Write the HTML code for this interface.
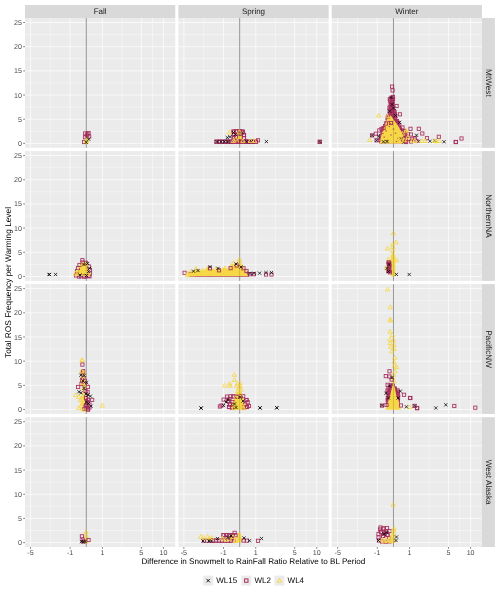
<!DOCTYPE html>
<html><head><meta charset="utf-8"><style>html,body{margin:0;padding:0;background:#fff;width:500px;height:593px;overflow:hidden}</style></head>
<body><div style="position:relative;width:500px;height:593px">
<svg width="500" height="593" viewBox="0 0 500 593" style="position:absolute;left:0;top:0">
<rect x="0" y="0" width="500" height="593" fill="#fff"/>
<rect x="25.00" y="18.00" width="150.27" height="129.80" fill="#EBEBEB"/>
<line x1="25.00" x2="175.27" y1="131.31" y2="131.31" stroke="#FFFFFF" stroke-width="0.4"/>
<line x1="25.00" x2="175.27" y1="107.13" y2="107.13" stroke="#FFFFFF" stroke-width="0.4"/>
<line x1="25.00" x2="175.27" y1="82.95" y2="82.95" stroke="#FFFFFF" stroke-width="0.4"/>
<line x1="25.00" x2="175.27" y1="58.77" y2="58.77" stroke="#FFFFFF" stroke-width="0.4"/>
<line x1="25.00" x2="175.27" y1="34.59" y2="34.59" stroke="#FFFFFF" stroke-width="0.4"/>
<line y1="18.00" y2="147.80" x1="50.30" x2="50.30" stroke="#FFFFFF" stroke-width="0.4"/>
<line y1="18.00" y2="147.80" x1="122.00" x2="122.00" stroke="#FFFFFF" stroke-width="0.4"/>
<line y1="18.00" y2="147.80" x1="152.50" x2="152.50" stroke="#FFFFFF" stroke-width="0.4"/>
<line x1="25.00" x2="175.27" y1="143.40" y2="143.40" stroke="#FFFFFF" stroke-width="0.68"/>
<line x1="25.00" x2="175.27" y1="119.22" y2="119.22" stroke="#FFFFFF" stroke-width="0.68"/>
<line x1="25.00" x2="175.27" y1="95.04" y2="95.04" stroke="#FFFFFF" stroke-width="0.68"/>
<line x1="25.00" x2="175.27" y1="70.86" y2="70.86" stroke="#FFFFFF" stroke-width="0.68"/>
<line x1="25.00" x2="175.27" y1="46.68" y2="46.68" stroke="#FFFFFF" stroke-width="0.68"/>
<line x1="25.00" x2="175.27" y1="22.50" y2="22.50" stroke="#FFFFFF" stroke-width="0.68"/>
<line y1="18.00" y2="147.80" x1="30.50" x2="30.50" stroke="#FFFFFF" stroke-width="0.68"/>
<line y1="18.00" y2="147.80" x1="70.10" x2="70.10" stroke="#FFFFFF" stroke-width="0.68"/>
<line y1="18.00" y2="147.80" x1="102.40" x2="102.40" stroke="#FFFFFF" stroke-width="0.68"/>
<line y1="18.00" y2="147.80" x1="141.30" x2="141.30" stroke="#FFFFFF" stroke-width="0.68"/>
<line y1="18.00" y2="147.80" x1="163.40" x2="163.40" stroke="#FFFFFF" stroke-width="0.68"/>
<rect x="178.37" y="18.00" width="150.27" height="129.80" fill="#EBEBEB"/>
<line x1="178.37" x2="328.64" y1="131.31" y2="131.31" stroke="#FFFFFF" stroke-width="0.4"/>
<line x1="178.37" x2="328.64" y1="107.13" y2="107.13" stroke="#FFFFFF" stroke-width="0.4"/>
<line x1="178.37" x2="328.64" y1="82.95" y2="82.95" stroke="#FFFFFF" stroke-width="0.4"/>
<line x1="178.37" x2="328.64" y1="58.77" y2="58.77" stroke="#FFFFFF" stroke-width="0.4"/>
<line x1="178.37" x2="328.64" y1="34.59" y2="34.59" stroke="#FFFFFF" stroke-width="0.4"/>
<line y1="18.00" y2="147.80" x1="203.67" x2="203.67" stroke="#FFFFFF" stroke-width="0.4"/>
<line y1="18.00" y2="147.80" x1="275.37" x2="275.37" stroke="#FFFFFF" stroke-width="0.4"/>
<line y1="18.00" y2="147.80" x1="305.87" x2="305.87" stroke="#FFFFFF" stroke-width="0.4"/>
<line x1="178.37" x2="328.64" y1="143.40" y2="143.40" stroke="#FFFFFF" stroke-width="0.68"/>
<line x1="178.37" x2="328.64" y1="119.22" y2="119.22" stroke="#FFFFFF" stroke-width="0.68"/>
<line x1="178.37" x2="328.64" y1="95.04" y2="95.04" stroke="#FFFFFF" stroke-width="0.68"/>
<line x1="178.37" x2="328.64" y1="70.86" y2="70.86" stroke="#FFFFFF" stroke-width="0.68"/>
<line x1="178.37" x2="328.64" y1="46.68" y2="46.68" stroke="#FFFFFF" stroke-width="0.68"/>
<line x1="178.37" x2="328.64" y1="22.50" y2="22.50" stroke="#FFFFFF" stroke-width="0.68"/>
<line y1="18.00" y2="147.80" x1="183.87" x2="183.87" stroke="#FFFFFF" stroke-width="0.68"/>
<line y1="18.00" y2="147.80" x1="223.47" x2="223.47" stroke="#FFFFFF" stroke-width="0.68"/>
<line y1="18.00" y2="147.80" x1="255.77" x2="255.77" stroke="#FFFFFF" stroke-width="0.68"/>
<line y1="18.00" y2="147.80" x1="294.67" x2="294.67" stroke="#FFFFFF" stroke-width="0.68"/>
<line y1="18.00" y2="147.80" x1="316.77" x2="316.77" stroke="#FFFFFF" stroke-width="0.68"/>
<rect x="331.73" y="18.00" width="150.27" height="129.80" fill="#EBEBEB"/>
<line x1="331.73" x2="482.00" y1="131.31" y2="131.31" stroke="#FFFFFF" stroke-width="0.4"/>
<line x1="331.73" x2="482.00" y1="107.13" y2="107.13" stroke="#FFFFFF" stroke-width="0.4"/>
<line x1="331.73" x2="482.00" y1="82.95" y2="82.95" stroke="#FFFFFF" stroke-width="0.4"/>
<line x1="331.73" x2="482.00" y1="58.77" y2="58.77" stroke="#FFFFFF" stroke-width="0.4"/>
<line x1="331.73" x2="482.00" y1="34.59" y2="34.59" stroke="#FFFFFF" stroke-width="0.4"/>
<line y1="18.00" y2="147.80" x1="357.48" x2="357.48" stroke="#FFFFFF" stroke-width="0.4"/>
<line y1="18.00" y2="147.80" x1="429.18" x2="429.18" stroke="#FFFFFF" stroke-width="0.4"/>
<line y1="18.00" y2="147.80" x1="459.68" x2="459.68" stroke="#FFFFFF" stroke-width="0.4"/>
<line x1="331.73" x2="482.00" y1="143.40" y2="143.40" stroke="#FFFFFF" stroke-width="0.68"/>
<line x1="331.73" x2="482.00" y1="119.22" y2="119.22" stroke="#FFFFFF" stroke-width="0.68"/>
<line x1="331.73" x2="482.00" y1="95.04" y2="95.04" stroke="#FFFFFF" stroke-width="0.68"/>
<line x1="331.73" x2="482.00" y1="70.86" y2="70.86" stroke="#FFFFFF" stroke-width="0.68"/>
<line x1="331.73" x2="482.00" y1="46.68" y2="46.68" stroke="#FFFFFF" stroke-width="0.68"/>
<line x1="331.73" x2="482.00" y1="22.50" y2="22.50" stroke="#FFFFFF" stroke-width="0.68"/>
<line y1="18.00" y2="147.80" x1="337.68" x2="337.68" stroke="#FFFFFF" stroke-width="0.68"/>
<line y1="18.00" y2="147.80" x1="377.28" x2="377.28" stroke="#FFFFFF" stroke-width="0.68"/>
<line y1="18.00" y2="147.80" x1="409.58" x2="409.58" stroke="#FFFFFF" stroke-width="0.68"/>
<line y1="18.00" y2="147.80" x1="448.48" x2="448.48" stroke="#FFFFFF" stroke-width="0.68"/>
<line y1="18.00" y2="147.80" x1="470.58" x2="470.58" stroke="#FFFFFF" stroke-width="0.68"/>
<rect x="25.00" y="151.07" width="150.27" height="129.80" fill="#EBEBEB"/>
<line x1="25.00" x2="175.27" y1="264.38" y2="264.38" stroke="#FFFFFF" stroke-width="0.4"/>
<line x1="25.00" x2="175.27" y1="240.20" y2="240.20" stroke="#FFFFFF" stroke-width="0.4"/>
<line x1="25.00" x2="175.27" y1="216.02" y2="216.02" stroke="#FFFFFF" stroke-width="0.4"/>
<line x1="25.00" x2="175.27" y1="191.84" y2="191.84" stroke="#FFFFFF" stroke-width="0.4"/>
<line x1="25.00" x2="175.27" y1="167.66" y2="167.66" stroke="#FFFFFF" stroke-width="0.4"/>
<line y1="151.07" y2="280.87" x1="50.30" x2="50.30" stroke="#FFFFFF" stroke-width="0.4"/>
<line y1="151.07" y2="280.87" x1="122.00" x2="122.00" stroke="#FFFFFF" stroke-width="0.4"/>
<line y1="151.07" y2="280.87" x1="152.50" x2="152.50" stroke="#FFFFFF" stroke-width="0.4"/>
<line x1="25.00" x2="175.27" y1="276.47" y2="276.47" stroke="#FFFFFF" stroke-width="0.68"/>
<line x1="25.00" x2="175.27" y1="252.29" y2="252.29" stroke="#FFFFFF" stroke-width="0.68"/>
<line x1="25.00" x2="175.27" y1="228.11" y2="228.11" stroke="#FFFFFF" stroke-width="0.68"/>
<line x1="25.00" x2="175.27" y1="203.93" y2="203.93" stroke="#FFFFFF" stroke-width="0.68"/>
<line x1="25.00" x2="175.27" y1="179.75" y2="179.75" stroke="#FFFFFF" stroke-width="0.68"/>
<line x1="25.00" x2="175.27" y1="155.57" y2="155.57" stroke="#FFFFFF" stroke-width="0.68"/>
<line y1="151.07" y2="280.87" x1="30.50" x2="30.50" stroke="#FFFFFF" stroke-width="0.68"/>
<line y1="151.07" y2="280.87" x1="70.10" x2="70.10" stroke="#FFFFFF" stroke-width="0.68"/>
<line y1="151.07" y2="280.87" x1="102.40" x2="102.40" stroke="#FFFFFF" stroke-width="0.68"/>
<line y1="151.07" y2="280.87" x1="141.30" x2="141.30" stroke="#FFFFFF" stroke-width="0.68"/>
<line y1="151.07" y2="280.87" x1="163.40" x2="163.40" stroke="#FFFFFF" stroke-width="0.68"/>
<rect x="178.37" y="151.07" width="150.27" height="129.80" fill="#EBEBEB"/>
<line x1="178.37" x2="328.64" y1="264.38" y2="264.38" stroke="#FFFFFF" stroke-width="0.4"/>
<line x1="178.37" x2="328.64" y1="240.20" y2="240.20" stroke="#FFFFFF" stroke-width="0.4"/>
<line x1="178.37" x2="328.64" y1="216.02" y2="216.02" stroke="#FFFFFF" stroke-width="0.4"/>
<line x1="178.37" x2="328.64" y1="191.84" y2="191.84" stroke="#FFFFFF" stroke-width="0.4"/>
<line x1="178.37" x2="328.64" y1="167.66" y2="167.66" stroke="#FFFFFF" stroke-width="0.4"/>
<line y1="151.07" y2="280.87" x1="203.67" x2="203.67" stroke="#FFFFFF" stroke-width="0.4"/>
<line y1="151.07" y2="280.87" x1="275.37" x2="275.37" stroke="#FFFFFF" stroke-width="0.4"/>
<line y1="151.07" y2="280.87" x1="305.87" x2="305.87" stroke="#FFFFFF" stroke-width="0.4"/>
<line x1="178.37" x2="328.64" y1="276.47" y2="276.47" stroke="#FFFFFF" stroke-width="0.68"/>
<line x1="178.37" x2="328.64" y1="252.29" y2="252.29" stroke="#FFFFFF" stroke-width="0.68"/>
<line x1="178.37" x2="328.64" y1="228.11" y2="228.11" stroke="#FFFFFF" stroke-width="0.68"/>
<line x1="178.37" x2="328.64" y1="203.93" y2="203.93" stroke="#FFFFFF" stroke-width="0.68"/>
<line x1="178.37" x2="328.64" y1="179.75" y2="179.75" stroke="#FFFFFF" stroke-width="0.68"/>
<line x1="178.37" x2="328.64" y1="155.57" y2="155.57" stroke="#FFFFFF" stroke-width="0.68"/>
<line y1="151.07" y2="280.87" x1="183.87" x2="183.87" stroke="#FFFFFF" stroke-width="0.68"/>
<line y1="151.07" y2="280.87" x1="223.47" x2="223.47" stroke="#FFFFFF" stroke-width="0.68"/>
<line y1="151.07" y2="280.87" x1="255.77" x2="255.77" stroke="#FFFFFF" stroke-width="0.68"/>
<line y1="151.07" y2="280.87" x1="294.67" x2="294.67" stroke="#FFFFFF" stroke-width="0.68"/>
<line y1="151.07" y2="280.87" x1="316.77" x2="316.77" stroke="#FFFFFF" stroke-width="0.68"/>
<rect x="331.73" y="151.07" width="150.27" height="129.80" fill="#EBEBEB"/>
<line x1="331.73" x2="482.00" y1="264.38" y2="264.38" stroke="#FFFFFF" stroke-width="0.4"/>
<line x1="331.73" x2="482.00" y1="240.20" y2="240.20" stroke="#FFFFFF" stroke-width="0.4"/>
<line x1="331.73" x2="482.00" y1="216.02" y2="216.02" stroke="#FFFFFF" stroke-width="0.4"/>
<line x1="331.73" x2="482.00" y1="191.84" y2="191.84" stroke="#FFFFFF" stroke-width="0.4"/>
<line x1="331.73" x2="482.00" y1="167.66" y2="167.66" stroke="#FFFFFF" stroke-width="0.4"/>
<line y1="151.07" y2="280.87" x1="357.48" x2="357.48" stroke="#FFFFFF" stroke-width="0.4"/>
<line y1="151.07" y2="280.87" x1="429.18" x2="429.18" stroke="#FFFFFF" stroke-width="0.4"/>
<line y1="151.07" y2="280.87" x1="459.68" x2="459.68" stroke="#FFFFFF" stroke-width="0.4"/>
<line x1="331.73" x2="482.00" y1="276.47" y2="276.47" stroke="#FFFFFF" stroke-width="0.68"/>
<line x1="331.73" x2="482.00" y1="252.29" y2="252.29" stroke="#FFFFFF" stroke-width="0.68"/>
<line x1="331.73" x2="482.00" y1="228.11" y2="228.11" stroke="#FFFFFF" stroke-width="0.68"/>
<line x1="331.73" x2="482.00" y1="203.93" y2="203.93" stroke="#FFFFFF" stroke-width="0.68"/>
<line x1="331.73" x2="482.00" y1="179.75" y2="179.75" stroke="#FFFFFF" stroke-width="0.68"/>
<line x1="331.73" x2="482.00" y1="155.57" y2="155.57" stroke="#FFFFFF" stroke-width="0.68"/>
<line y1="151.07" y2="280.87" x1="337.68" x2="337.68" stroke="#FFFFFF" stroke-width="0.68"/>
<line y1="151.07" y2="280.87" x1="377.28" x2="377.28" stroke="#FFFFFF" stroke-width="0.68"/>
<line y1="151.07" y2="280.87" x1="409.58" x2="409.58" stroke="#FFFFFF" stroke-width="0.68"/>
<line y1="151.07" y2="280.87" x1="448.48" x2="448.48" stroke="#FFFFFF" stroke-width="0.68"/>
<line y1="151.07" y2="280.87" x1="470.58" x2="470.58" stroke="#FFFFFF" stroke-width="0.68"/>
<rect x="25.00" y="284.13" width="150.27" height="129.80" fill="#EBEBEB"/>
<line x1="25.00" x2="175.27" y1="397.44" y2="397.44" stroke="#FFFFFF" stroke-width="0.4"/>
<line x1="25.00" x2="175.27" y1="373.26" y2="373.26" stroke="#FFFFFF" stroke-width="0.4"/>
<line x1="25.00" x2="175.27" y1="349.08" y2="349.08" stroke="#FFFFFF" stroke-width="0.4"/>
<line x1="25.00" x2="175.27" y1="324.90" y2="324.90" stroke="#FFFFFF" stroke-width="0.4"/>
<line x1="25.00" x2="175.27" y1="300.72" y2="300.72" stroke="#FFFFFF" stroke-width="0.4"/>
<line y1="284.13" y2="413.93" x1="50.30" x2="50.30" stroke="#FFFFFF" stroke-width="0.4"/>
<line y1="284.13" y2="413.93" x1="122.00" x2="122.00" stroke="#FFFFFF" stroke-width="0.4"/>
<line y1="284.13" y2="413.93" x1="152.50" x2="152.50" stroke="#FFFFFF" stroke-width="0.4"/>
<line x1="25.00" x2="175.27" y1="409.53" y2="409.53" stroke="#FFFFFF" stroke-width="0.68"/>
<line x1="25.00" x2="175.27" y1="385.35" y2="385.35" stroke="#FFFFFF" stroke-width="0.68"/>
<line x1="25.00" x2="175.27" y1="361.17" y2="361.17" stroke="#FFFFFF" stroke-width="0.68"/>
<line x1="25.00" x2="175.27" y1="336.99" y2="336.99" stroke="#FFFFFF" stroke-width="0.68"/>
<line x1="25.00" x2="175.27" y1="312.81" y2="312.81" stroke="#FFFFFF" stroke-width="0.68"/>
<line x1="25.00" x2="175.27" y1="288.63" y2="288.63" stroke="#FFFFFF" stroke-width="0.68"/>
<line y1="284.13" y2="413.93" x1="30.50" x2="30.50" stroke="#FFFFFF" stroke-width="0.68"/>
<line y1="284.13" y2="413.93" x1="70.10" x2="70.10" stroke="#FFFFFF" stroke-width="0.68"/>
<line y1="284.13" y2="413.93" x1="102.40" x2="102.40" stroke="#FFFFFF" stroke-width="0.68"/>
<line y1="284.13" y2="413.93" x1="141.30" x2="141.30" stroke="#FFFFFF" stroke-width="0.68"/>
<line y1="284.13" y2="413.93" x1="163.40" x2="163.40" stroke="#FFFFFF" stroke-width="0.68"/>
<rect x="178.37" y="284.13" width="150.27" height="129.80" fill="#EBEBEB"/>
<line x1="178.37" x2="328.64" y1="397.44" y2="397.44" stroke="#FFFFFF" stroke-width="0.4"/>
<line x1="178.37" x2="328.64" y1="373.26" y2="373.26" stroke="#FFFFFF" stroke-width="0.4"/>
<line x1="178.37" x2="328.64" y1="349.08" y2="349.08" stroke="#FFFFFF" stroke-width="0.4"/>
<line x1="178.37" x2="328.64" y1="324.90" y2="324.90" stroke="#FFFFFF" stroke-width="0.4"/>
<line x1="178.37" x2="328.64" y1="300.72" y2="300.72" stroke="#FFFFFF" stroke-width="0.4"/>
<line y1="284.13" y2="413.93" x1="203.67" x2="203.67" stroke="#FFFFFF" stroke-width="0.4"/>
<line y1="284.13" y2="413.93" x1="275.37" x2="275.37" stroke="#FFFFFF" stroke-width="0.4"/>
<line y1="284.13" y2="413.93" x1="305.87" x2="305.87" stroke="#FFFFFF" stroke-width="0.4"/>
<line x1="178.37" x2="328.64" y1="409.53" y2="409.53" stroke="#FFFFFF" stroke-width="0.68"/>
<line x1="178.37" x2="328.64" y1="385.35" y2="385.35" stroke="#FFFFFF" stroke-width="0.68"/>
<line x1="178.37" x2="328.64" y1="361.17" y2="361.17" stroke="#FFFFFF" stroke-width="0.68"/>
<line x1="178.37" x2="328.64" y1="336.99" y2="336.99" stroke="#FFFFFF" stroke-width="0.68"/>
<line x1="178.37" x2="328.64" y1="312.81" y2="312.81" stroke="#FFFFFF" stroke-width="0.68"/>
<line x1="178.37" x2="328.64" y1="288.63" y2="288.63" stroke="#FFFFFF" stroke-width="0.68"/>
<line y1="284.13" y2="413.93" x1="183.87" x2="183.87" stroke="#FFFFFF" stroke-width="0.68"/>
<line y1="284.13" y2="413.93" x1="223.47" x2="223.47" stroke="#FFFFFF" stroke-width="0.68"/>
<line y1="284.13" y2="413.93" x1="255.77" x2="255.77" stroke="#FFFFFF" stroke-width="0.68"/>
<line y1="284.13" y2="413.93" x1="294.67" x2="294.67" stroke="#FFFFFF" stroke-width="0.68"/>
<line y1="284.13" y2="413.93" x1="316.77" x2="316.77" stroke="#FFFFFF" stroke-width="0.68"/>
<rect x="331.73" y="284.13" width="150.27" height="129.80" fill="#EBEBEB"/>
<line x1="331.73" x2="482.00" y1="397.44" y2="397.44" stroke="#FFFFFF" stroke-width="0.4"/>
<line x1="331.73" x2="482.00" y1="373.26" y2="373.26" stroke="#FFFFFF" stroke-width="0.4"/>
<line x1="331.73" x2="482.00" y1="349.08" y2="349.08" stroke="#FFFFFF" stroke-width="0.4"/>
<line x1="331.73" x2="482.00" y1="324.90" y2="324.90" stroke="#FFFFFF" stroke-width="0.4"/>
<line x1="331.73" x2="482.00" y1="300.72" y2="300.72" stroke="#FFFFFF" stroke-width="0.4"/>
<line y1="284.13" y2="413.93" x1="357.48" x2="357.48" stroke="#FFFFFF" stroke-width="0.4"/>
<line y1="284.13" y2="413.93" x1="429.18" x2="429.18" stroke="#FFFFFF" stroke-width="0.4"/>
<line y1="284.13" y2="413.93" x1="459.68" x2="459.68" stroke="#FFFFFF" stroke-width="0.4"/>
<line x1="331.73" x2="482.00" y1="409.53" y2="409.53" stroke="#FFFFFF" stroke-width="0.68"/>
<line x1="331.73" x2="482.00" y1="385.35" y2="385.35" stroke="#FFFFFF" stroke-width="0.68"/>
<line x1="331.73" x2="482.00" y1="361.17" y2="361.17" stroke="#FFFFFF" stroke-width="0.68"/>
<line x1="331.73" x2="482.00" y1="336.99" y2="336.99" stroke="#FFFFFF" stroke-width="0.68"/>
<line x1="331.73" x2="482.00" y1="312.81" y2="312.81" stroke="#FFFFFF" stroke-width="0.68"/>
<line x1="331.73" x2="482.00" y1="288.63" y2="288.63" stroke="#FFFFFF" stroke-width="0.68"/>
<line y1="284.13" y2="413.93" x1="337.68" x2="337.68" stroke="#FFFFFF" stroke-width="0.68"/>
<line y1="284.13" y2="413.93" x1="377.28" x2="377.28" stroke="#FFFFFF" stroke-width="0.68"/>
<line y1="284.13" y2="413.93" x1="409.58" x2="409.58" stroke="#FFFFFF" stroke-width="0.68"/>
<line y1="284.13" y2="413.93" x1="448.48" x2="448.48" stroke="#FFFFFF" stroke-width="0.68"/>
<line y1="284.13" y2="413.93" x1="470.58" x2="470.58" stroke="#FFFFFF" stroke-width="0.68"/>
<rect x="25.00" y="417.20" width="150.27" height="129.80" fill="#EBEBEB"/>
<line x1="25.00" x2="175.27" y1="530.51" y2="530.51" stroke="#FFFFFF" stroke-width="0.4"/>
<line x1="25.00" x2="175.27" y1="506.33" y2="506.33" stroke="#FFFFFF" stroke-width="0.4"/>
<line x1="25.00" x2="175.27" y1="482.15" y2="482.15" stroke="#FFFFFF" stroke-width="0.4"/>
<line x1="25.00" x2="175.27" y1="457.97" y2="457.97" stroke="#FFFFFF" stroke-width="0.4"/>
<line x1="25.00" x2="175.27" y1="433.79" y2="433.79" stroke="#FFFFFF" stroke-width="0.4"/>
<line y1="417.20" y2="547.00" x1="50.30" x2="50.30" stroke="#FFFFFF" stroke-width="0.4"/>
<line y1="417.20" y2="547.00" x1="122.00" x2="122.00" stroke="#FFFFFF" stroke-width="0.4"/>
<line y1="417.20" y2="547.00" x1="152.50" x2="152.50" stroke="#FFFFFF" stroke-width="0.4"/>
<line x1="25.00" x2="175.27" y1="542.60" y2="542.60" stroke="#FFFFFF" stroke-width="0.68"/>
<line x1="25.00" x2="175.27" y1="518.42" y2="518.42" stroke="#FFFFFF" stroke-width="0.68"/>
<line x1="25.00" x2="175.27" y1="494.24" y2="494.24" stroke="#FFFFFF" stroke-width="0.68"/>
<line x1="25.00" x2="175.27" y1="470.06" y2="470.06" stroke="#FFFFFF" stroke-width="0.68"/>
<line x1="25.00" x2="175.27" y1="445.88" y2="445.88" stroke="#FFFFFF" stroke-width="0.68"/>
<line x1="25.00" x2="175.27" y1="421.70" y2="421.70" stroke="#FFFFFF" stroke-width="0.68"/>
<line y1="417.20" y2="547.00" x1="30.50" x2="30.50" stroke="#FFFFFF" stroke-width="0.68"/>
<line y1="417.20" y2="547.00" x1="70.10" x2="70.10" stroke="#FFFFFF" stroke-width="0.68"/>
<line y1="417.20" y2="547.00" x1="102.40" x2="102.40" stroke="#FFFFFF" stroke-width="0.68"/>
<line y1="417.20" y2="547.00" x1="141.30" x2="141.30" stroke="#FFFFFF" stroke-width="0.68"/>
<line y1="417.20" y2="547.00" x1="163.40" x2="163.40" stroke="#FFFFFF" stroke-width="0.68"/>
<rect x="178.37" y="417.20" width="150.27" height="129.80" fill="#EBEBEB"/>
<line x1="178.37" x2="328.64" y1="530.51" y2="530.51" stroke="#FFFFFF" stroke-width="0.4"/>
<line x1="178.37" x2="328.64" y1="506.33" y2="506.33" stroke="#FFFFFF" stroke-width="0.4"/>
<line x1="178.37" x2="328.64" y1="482.15" y2="482.15" stroke="#FFFFFF" stroke-width="0.4"/>
<line x1="178.37" x2="328.64" y1="457.97" y2="457.97" stroke="#FFFFFF" stroke-width="0.4"/>
<line x1="178.37" x2="328.64" y1="433.79" y2="433.79" stroke="#FFFFFF" stroke-width="0.4"/>
<line y1="417.20" y2="547.00" x1="203.67" x2="203.67" stroke="#FFFFFF" stroke-width="0.4"/>
<line y1="417.20" y2="547.00" x1="275.37" x2="275.37" stroke="#FFFFFF" stroke-width="0.4"/>
<line y1="417.20" y2="547.00" x1="305.87" x2="305.87" stroke="#FFFFFF" stroke-width="0.4"/>
<line x1="178.37" x2="328.64" y1="542.60" y2="542.60" stroke="#FFFFFF" stroke-width="0.68"/>
<line x1="178.37" x2="328.64" y1="518.42" y2="518.42" stroke="#FFFFFF" stroke-width="0.68"/>
<line x1="178.37" x2="328.64" y1="494.24" y2="494.24" stroke="#FFFFFF" stroke-width="0.68"/>
<line x1="178.37" x2="328.64" y1="470.06" y2="470.06" stroke="#FFFFFF" stroke-width="0.68"/>
<line x1="178.37" x2="328.64" y1="445.88" y2="445.88" stroke="#FFFFFF" stroke-width="0.68"/>
<line x1="178.37" x2="328.64" y1="421.70" y2="421.70" stroke="#FFFFFF" stroke-width="0.68"/>
<line y1="417.20" y2="547.00" x1="183.87" x2="183.87" stroke="#FFFFFF" stroke-width="0.68"/>
<line y1="417.20" y2="547.00" x1="223.47" x2="223.47" stroke="#FFFFFF" stroke-width="0.68"/>
<line y1="417.20" y2="547.00" x1="255.77" x2="255.77" stroke="#FFFFFF" stroke-width="0.68"/>
<line y1="417.20" y2="547.00" x1="294.67" x2="294.67" stroke="#FFFFFF" stroke-width="0.68"/>
<line y1="417.20" y2="547.00" x1="316.77" x2="316.77" stroke="#FFFFFF" stroke-width="0.68"/>
<rect x="331.73" y="417.20" width="150.27" height="129.80" fill="#EBEBEB"/>
<line x1="331.73" x2="482.00" y1="530.51" y2="530.51" stroke="#FFFFFF" stroke-width="0.4"/>
<line x1="331.73" x2="482.00" y1="506.33" y2="506.33" stroke="#FFFFFF" stroke-width="0.4"/>
<line x1="331.73" x2="482.00" y1="482.15" y2="482.15" stroke="#FFFFFF" stroke-width="0.4"/>
<line x1="331.73" x2="482.00" y1="457.97" y2="457.97" stroke="#FFFFFF" stroke-width="0.4"/>
<line x1="331.73" x2="482.00" y1="433.79" y2="433.79" stroke="#FFFFFF" stroke-width="0.4"/>
<line y1="417.20" y2="547.00" x1="357.48" x2="357.48" stroke="#FFFFFF" stroke-width="0.4"/>
<line y1="417.20" y2="547.00" x1="429.18" x2="429.18" stroke="#FFFFFF" stroke-width="0.4"/>
<line y1="417.20" y2="547.00" x1="459.68" x2="459.68" stroke="#FFFFFF" stroke-width="0.4"/>
<line x1="331.73" x2="482.00" y1="542.60" y2="542.60" stroke="#FFFFFF" stroke-width="0.68"/>
<line x1="331.73" x2="482.00" y1="518.42" y2="518.42" stroke="#FFFFFF" stroke-width="0.68"/>
<line x1="331.73" x2="482.00" y1="494.24" y2="494.24" stroke="#FFFFFF" stroke-width="0.68"/>
<line x1="331.73" x2="482.00" y1="470.06" y2="470.06" stroke="#FFFFFF" stroke-width="0.68"/>
<line x1="331.73" x2="482.00" y1="445.88" y2="445.88" stroke="#FFFFFF" stroke-width="0.68"/>
<line x1="331.73" x2="482.00" y1="421.70" y2="421.70" stroke="#FFFFFF" stroke-width="0.68"/>
<line y1="417.20" y2="547.00" x1="337.68" x2="337.68" stroke="#FFFFFF" stroke-width="0.68"/>
<line y1="417.20" y2="547.00" x1="377.28" x2="377.28" stroke="#FFFFFF" stroke-width="0.68"/>
<line y1="417.20" y2="547.00" x1="409.58" x2="409.58" stroke="#FFFFFF" stroke-width="0.68"/>
<line y1="417.20" y2="547.00" x1="448.48" x2="448.48" stroke="#FFFFFF" stroke-width="0.68"/>
<line y1="417.20" y2="547.00" x1="470.58" x2="470.58" stroke="#FFFFFF" stroke-width="0.68"/>
<line y1="18.00" y2="147.80" x1="86.30" x2="86.30" stroke="#B2B2B2" stroke-width="1.0"/>
<line y1="18.00" y2="147.80" x1="239.67" x2="239.67" stroke="#B2B2B2" stroke-width="1.0"/>
<line y1="18.00" y2="147.80" x1="393.48" x2="393.48" stroke="#B2B2B2" stroke-width="1.0"/>
<line y1="151.07" y2="280.87" x1="86.30" x2="86.30" stroke="#B2B2B2" stroke-width="1.0"/>
<line y1="151.07" y2="280.87" x1="239.67" x2="239.67" stroke="#B2B2B2" stroke-width="1.0"/>
<line y1="151.07" y2="280.87" x1="393.48" x2="393.48" stroke="#B2B2B2" stroke-width="1.0"/>
<line y1="284.13" y2="413.93" x1="86.30" x2="86.30" stroke="#B2B2B2" stroke-width="1.0"/>
<line y1="284.13" y2="413.93" x1="239.67" x2="239.67" stroke="#B2B2B2" stroke-width="1.0"/>
<line y1="284.13" y2="413.93" x1="393.48" x2="393.48" stroke="#B2B2B2" stroke-width="1.0"/>
<line y1="417.20" y2="547.00" x1="86.30" x2="86.30" stroke="#B2B2B2" stroke-width="1.0"/>
<line y1="417.20" y2="547.00" x1="239.67" x2="239.67" stroke="#B2B2B2" stroke-width="1.0"/>
<line y1="417.20" y2="547.00" x1="393.48" x2="393.48" stroke="#B2B2B2" stroke-width="1.0"/>
<polygon points="239.4,129.8 241.5,134.0 242.8,143.5 236.0,143.5 237.3,134.0" fill="#F6D746"/>
<polygon points="389.8,95.4 393.4,95.4 393.8,100.0 394.3,108.0 395.3,113.5 396.8,119.0 399.0,123.5 402.0,128.0 404.5,132.5 406.5,137.5 407.5,143.6 379.0,143.6 379.5,138.0 381.0,132.0 384.0,127.5 386.8,121.0 388.3,114.0 389.2,106.0 389.5,100.0" fill="#BC5A80"/>
<rect x="391.40" y="95.32" width="3.2" height="3.2" fill="none" stroke="#A82E5E" stroke-width="0.9" opacity="0.95"/>
<rect x="388.28" y="97.48" width="3.2" height="3.2" fill="none" stroke="#A82E5E" stroke-width="0.9" opacity="0.95"/>
<rect x="390.66" y="97.75" width="3.2" height="3.2" fill="none" stroke="#A82E5E" stroke-width="0.9" opacity="0.95"/>
<rect x="389.06" y="100.62" width="3.2" height="3.2" fill="none" stroke="#A82E5E" stroke-width="0.9" opacity="0.95"/>
<rect x="391.01" y="100.31" width="3.2" height="3.2" fill="none" stroke="#A82E5E" stroke-width="0.9" opacity="0.95"/>
<rect x="389.18" y="102.71" width="3.2" height="3.2" fill="none" stroke="#A82E5E" stroke-width="0.9" opacity="0.95"/>
<rect x="390.87" y="102.20" width="3.2" height="3.2" fill="none" stroke="#A82E5E" stroke-width="0.9" opacity="0.95"/>
<rect x="388.97" y="105.02" width="3.2" height="3.2" fill="none" stroke="#A82E5E" stroke-width="0.9" opacity="0.95"/>
<rect x="391.07" y="104.91" width="3.2" height="3.2" fill="none" stroke="#A82E5E" stroke-width="0.9" opacity="0.95"/>
<rect x="388.96" y="107.78" width="3.2" height="3.2" fill="none" stroke="#A82E5E" stroke-width="0.9" opacity="0.95"/>
<rect x="390.71" y="107.81" width="3.2" height="3.2" fill="none" stroke="#A82E5E" stroke-width="0.9" opacity="0.95"/>
<rect x="388.03" y="109.66" width="3.2" height="3.2" fill="none" stroke="#A82E5E" stroke-width="0.9" opacity="0.95"/>
<rect x="390.91" y="109.43" width="3.2" height="3.2" fill="none" stroke="#A82E5E" stroke-width="0.9" opacity="0.95"/>
<rect x="392.93" y="110.28" width="3.2" height="3.2" fill="none" stroke="#A82E5E" stroke-width="0.9" opacity="0.95"/>
<rect x="388.27" y="112.38" width="3.2" height="3.2" fill="none" stroke="#A82E5E" stroke-width="0.9" opacity="0.95"/>
<rect x="390.87" y="112.29" width="3.2" height="3.2" fill="none" stroke="#A82E5E" stroke-width="0.9" opacity="0.95"/>
<rect x="393.19" y="112.36" width="3.2" height="3.2" fill="none" stroke="#A82E5E" stroke-width="0.9" opacity="0.95"/>
<rect x="386.58" y="115.15" width="3.2" height="3.2" fill="none" stroke="#A82E5E" stroke-width="0.9" opacity="0.95"/>
<rect x="388.68" y="114.21" width="3.2" height="3.2" fill="none" stroke="#A82E5E" stroke-width="0.9" opacity="0.95"/>
<rect x="391.44" y="115.17" width="3.2" height="3.2" fill="none" stroke="#A82E5E" stroke-width="0.9" opacity="0.95"/>
<rect x="393.64" y="114.61" width="3.2" height="3.2" fill="none" stroke="#A82E5E" stroke-width="0.9" opacity="0.95"/>
<rect x="385.84" y="116.79" width="3.2" height="3.2" fill="none" stroke="#A82E5E" stroke-width="0.9" opacity="0.95"/>
<rect x="389.18" y="117.34" width="3.2" height="3.2" fill="none" stroke="#A82E5E" stroke-width="0.9" opacity="0.95"/>
<rect x="390.81" y="116.66" width="3.2" height="3.2" fill="none" stroke="#A82E5E" stroke-width="0.9" opacity="0.95"/>
<rect x="393.61" y="117.41" width="3.2" height="3.2" fill="none" stroke="#A82E5E" stroke-width="0.9" opacity="0.95"/>
<rect x="386.61" y="119.24" width="3.2" height="3.2" fill="none" stroke="#A82E5E" stroke-width="0.9" opacity="0.95"/>
<rect x="388.41" y="119.15" width="3.2" height="3.2" fill="none" stroke="#A82E5E" stroke-width="0.9" opacity="0.95"/>
<rect x="391.44" y="119.52" width="3.2" height="3.2" fill="none" stroke="#A82E5E" stroke-width="0.9" opacity="0.95"/>
<rect x="393.95" y="119.86" width="3.2" height="3.2" fill="none" stroke="#A82E5E" stroke-width="0.9" opacity="0.95"/>
<rect x="395.36" y="119.46" width="3.2" height="3.2" fill="none" stroke="#A82E5E" stroke-width="0.9" opacity="0.95"/>
<rect x="385.70" y="121.52" width="3.2" height="3.2" fill="none" stroke="#A82E5E" stroke-width="0.9" opacity="0.95"/>
<rect x="389.07" y="121.88" width="3.2" height="3.2" fill="none" stroke="#A82E5E" stroke-width="0.9" opacity="0.95"/>
<rect x="391.51" y="121.75" width="3.2" height="3.2" fill="none" stroke="#A82E5E" stroke-width="0.9" opacity="0.95"/>
<rect x="393.13" y="122.14" width="3.2" height="3.2" fill="none" stroke="#A82E5E" stroke-width="0.9" opacity="0.95"/>
<rect x="396.19" y="121.21" width="3.2" height="3.2" fill="none" stroke="#A82E5E" stroke-width="0.9" opacity="0.95"/>
<rect x="383.49" y="124.49" width="3.2" height="3.2" fill="none" stroke="#A82E5E" stroke-width="0.9" opacity="0.95"/>
<rect x="385.72" y="124.69" width="3.2" height="3.2" fill="none" stroke="#A82E5E" stroke-width="0.9" opacity="0.95"/>
<rect x="388.45" y="124.76" width="3.2" height="3.2" fill="none" stroke="#A82E5E" stroke-width="0.9" opacity="0.95"/>
<rect x="391.49" y="123.95" width="3.2" height="3.2" fill="none" stroke="#A82E5E" stroke-width="0.9" opacity="0.95"/>
<rect x="393.10" y="124.17" width="3.2" height="3.2" fill="none" stroke="#A82E5E" stroke-width="0.9" opacity="0.95"/>
<rect x="395.32" y="124.38" width="3.2" height="3.2" fill="none" stroke="#A82E5E" stroke-width="0.9" opacity="0.95"/>
<rect x="397.65" y="123.61" width="3.2" height="3.2" fill="none" stroke="#A82E5E" stroke-width="0.9" opacity="0.95"/>
<rect x="381.90" y="127.16" width="3.2" height="3.2" fill="none" stroke="#A82E5E" stroke-width="0.9" opacity="0.95"/>
<rect x="384.36" y="126.13" width="3.2" height="3.2" fill="none" stroke="#A82E5E" stroke-width="0.9" opacity="0.95"/>
<rect x="385.86" y="126.74" width="3.2" height="3.2" fill="none" stroke="#A82E5E" stroke-width="0.9" opacity="0.95"/>
<rect x="389.18" y="126.65" width="3.2" height="3.2" fill="none" stroke="#A82E5E" stroke-width="0.9" opacity="0.95"/>
<rect x="391.23" y="126.79" width="3.2" height="3.2" fill="none" stroke="#A82E5E" stroke-width="0.9" opacity="0.95"/>
<rect x="393.11" y="126.65" width="3.2" height="3.2" fill="none" stroke="#A82E5E" stroke-width="0.9" opacity="0.95"/>
<rect x="395.57" y="126.30" width="3.2" height="3.2" fill="none" stroke="#A82E5E" stroke-width="0.9" opacity="0.95"/>
<rect x="397.70" y="126.34" width="3.2" height="3.2" fill="none" stroke="#A82E5E" stroke-width="0.9" opacity="0.95"/>
<rect x="381.17" y="128.79" width="3.2" height="3.2" fill="none" stroke="#A82E5E" stroke-width="0.9" opacity="0.95"/>
<rect x="383.58" y="129.42" width="3.2" height="3.2" fill="none" stroke="#A82E5E" stroke-width="0.9" opacity="0.95"/>
<rect x="386.67" y="128.76" width="3.2" height="3.2" fill="none" stroke="#A82E5E" stroke-width="0.9" opacity="0.95"/>
<rect x="388.40" y="129.05" width="3.2" height="3.2" fill="none" stroke="#A82E5E" stroke-width="0.9" opacity="0.95"/>
<rect x="391.09" y="129.12" width="3.2" height="3.2" fill="none" stroke="#A82E5E" stroke-width="0.9" opacity="0.95"/>
<rect x="393.09" y="128.42" width="3.2" height="3.2" fill="none" stroke="#A82E5E" stroke-width="0.9" opacity="0.95"/>
<rect x="395.49" y="128.49" width="3.2" height="3.2" fill="none" stroke="#A82E5E" stroke-width="0.9" opacity="0.95"/>
<rect x="398.26" y="128.49" width="3.2" height="3.2" fill="none" stroke="#A82E5E" stroke-width="0.9" opacity="0.95"/>
<rect x="400.09" y="129.16" width="3.2" height="3.2" fill="none" stroke="#A82E5E" stroke-width="0.9" opacity="0.95"/>
<rect x="380.99" y="131.40" width="3.2" height="3.2" fill="none" stroke="#A82E5E" stroke-width="0.9" opacity="0.95"/>
<rect x="384.15" y="130.89" width="3.2" height="3.2" fill="none" stroke="#A82E5E" stroke-width="0.9" opacity="0.95"/>
<rect x="386.74" y="131.01" width="3.2" height="3.2" fill="none" stroke="#A82E5E" stroke-width="0.9" opacity="0.95"/>
<rect x="388.93" y="131.98" width="3.2" height="3.2" fill="none" stroke="#A82E5E" stroke-width="0.9" opacity="0.95"/>
<rect x="391.39" y="131.18" width="3.2" height="3.2" fill="none" stroke="#A82E5E" stroke-width="0.9" opacity="0.95"/>
<rect x="392.93" y="131.42" width="3.2" height="3.2" fill="none" stroke="#A82E5E" stroke-width="0.9" opacity="0.95"/>
<rect x="396.30" y="131.15" width="3.2" height="3.2" fill="none" stroke="#A82E5E" stroke-width="0.9" opacity="0.95"/>
<rect x="398.67" y="130.97" width="3.2" height="3.2" fill="none" stroke="#A82E5E" stroke-width="0.9" opacity="0.95"/>
<rect x="401.09" y="130.84" width="3.2" height="3.2" fill="none" stroke="#A82E5E" stroke-width="0.9" opacity="0.95"/>
<rect x="402.78" y="131.88" width="3.2" height="3.2" fill="none" stroke="#A82E5E" stroke-width="0.9" opacity="0.95"/>
<rect x="379.36" y="134.29" width="3.2" height="3.2" fill="none" stroke="#A82E5E" stroke-width="0.9" opacity="0.95"/>
<rect x="381.81" y="134.10" width="3.2" height="3.2" fill="none" stroke="#A82E5E" stroke-width="0.9" opacity="0.95"/>
<rect x="384.03" y="133.41" width="3.2" height="3.2" fill="none" stroke="#A82E5E" stroke-width="0.9" opacity="0.95"/>
<rect x="386.12" y="133.39" width="3.2" height="3.2" fill="none" stroke="#A82E5E" stroke-width="0.9" opacity="0.95"/>
<rect x="388.86" y="134.00" width="3.2" height="3.2" fill="none" stroke="#A82E5E" stroke-width="0.9" opacity="0.95"/>
<rect x="390.70" y="133.28" width="3.2" height="3.2" fill="none" stroke="#A82E5E" stroke-width="0.9" opacity="0.95"/>
<rect x="393.96" y="134.17" width="3.2" height="3.2" fill="none" stroke="#A82E5E" stroke-width="0.9" opacity="0.95"/>
<rect x="395.86" y="133.85" width="3.2" height="3.2" fill="none" stroke="#A82E5E" stroke-width="0.9" opacity="0.95"/>
<rect x="398.62" y="133.74" width="3.2" height="3.2" fill="none" stroke="#A82E5E" stroke-width="0.9" opacity="0.95"/>
<rect x="400.47" y="133.61" width="3.2" height="3.2" fill="none" stroke="#A82E5E" stroke-width="0.9" opacity="0.95"/>
<rect x="402.71" y="133.23" width="3.2" height="3.2" fill="none" stroke="#A82E5E" stroke-width="0.9" opacity="0.95"/>
<rect x="379.18" y="136.10" width="3.2" height="3.2" fill="none" stroke="#A82E5E" stroke-width="0.9" opacity="0.95"/>
<rect x="381.48" y="135.67" width="3.2" height="3.2" fill="none" stroke="#A82E5E" stroke-width="0.9" opacity="0.95"/>
<rect x="383.63" y="135.77" width="3.2" height="3.2" fill="none" stroke="#A82E5E" stroke-width="0.9" opacity="0.95"/>
<rect x="385.75" y="135.91" width="3.2" height="3.2" fill="none" stroke="#A82E5E" stroke-width="0.9" opacity="0.95"/>
<rect x="388.99" y="136.08" width="3.2" height="3.2" fill="none" stroke="#A82E5E" stroke-width="0.9" opacity="0.95"/>
<rect x="390.88" y="136.33" width="3.2" height="3.2" fill="none" stroke="#A82E5E" stroke-width="0.9" opacity="0.95"/>
<rect x="393.08" y="135.61" width="3.2" height="3.2" fill="none" stroke="#A82E5E" stroke-width="0.9" opacity="0.95"/>
<rect x="395.83" y="136.20" width="3.2" height="3.2" fill="none" stroke="#A82E5E" stroke-width="0.9" opacity="0.95"/>
<rect x="398.38" y="136.13" width="3.2" height="3.2" fill="none" stroke="#A82E5E" stroke-width="0.9" opacity="0.95"/>
<rect x="400.82" y="136.48" width="3.2" height="3.2" fill="none" stroke="#A82E5E" stroke-width="0.9" opacity="0.95"/>
<rect x="402.69" y="136.19" width="3.2" height="3.2" fill="none" stroke="#A82E5E" stroke-width="0.9" opacity="0.95"/>
<rect x="378.97" y="138.27" width="3.2" height="3.2" fill="none" stroke="#A82E5E" stroke-width="0.9" opacity="0.95"/>
<rect x="381.29" y="138.67" width="3.2" height="3.2" fill="none" stroke="#A82E5E" stroke-width="0.9" opacity="0.95"/>
<rect x="384.29" y="139.10" width="3.2" height="3.2" fill="none" stroke="#A82E5E" stroke-width="0.9" opacity="0.95"/>
<rect x="385.93" y="138.78" width="3.2" height="3.2" fill="none" stroke="#A82E5E" stroke-width="0.9" opacity="0.95"/>
<rect x="388.06" y="138.09" width="3.2" height="3.2" fill="none" stroke="#A82E5E" stroke-width="0.9" opacity="0.95"/>
<rect x="391.01" y="139.05" width="3.2" height="3.2" fill="none" stroke="#A82E5E" stroke-width="0.9" opacity="0.95"/>
<rect x="392.99" y="138.92" width="3.2" height="3.2" fill="none" stroke="#A82E5E" stroke-width="0.9" opacity="0.95"/>
<rect x="396.26" y="138.37" width="3.2" height="3.2" fill="none" stroke="#A82E5E" stroke-width="0.9" opacity="0.95"/>
<rect x="398.43" y="139.02" width="3.2" height="3.2" fill="none" stroke="#A82E5E" stroke-width="0.9" opacity="0.95"/>
<rect x="400.45" y="138.84" width="3.2" height="3.2" fill="none" stroke="#A82E5E" stroke-width="0.9" opacity="0.95"/>
<rect x="403.28" y="138.71" width="3.2" height="3.2" fill="none" stroke="#A82E5E" stroke-width="0.9" opacity="0.95"/>
<polygon points="389.5,114.8 391.5,116.5 395.0,121.5 398.5,126.5 401.5,131.5 403.5,136.5 404.6,143.5 380.0,143.5 380.8,137.5 382.5,131.5 384.5,126.0 386.8,119.5" fill="#F6D746"/>
<polygon points="406.0,127.5 408.3,132.0 403.7,132.0" fill="#F6D746"/>
<polygon points="407.0,137.0 409.5,141.8 404.5,141.8" fill="#F6D746"/>
<polygon points="81.5,262.6 85.5,262.8 87.8,266.5 90.0,275.6 74.3,275.6 76.3,271.0 78.5,267.0" fill="#F6D746"/>
<polygon points="189.0,276.9 189.5,273.0 248.0,272.0 249.0,276.9" fill="#BC5A80"/>
<rect x="188.56" y="272.42" width="3.2" height="3.2" fill="none" stroke="#A82E5E" stroke-width="0.9" opacity="0.95"/>
<rect x="191.72" y="271.71" width="3.2" height="3.2" fill="none" stroke="#A82E5E" stroke-width="0.9" opacity="0.95"/>
<rect x="193.79" y="271.94" width="3.2" height="3.2" fill="none" stroke="#A82E5E" stroke-width="0.9" opacity="0.95"/>
<rect x="196.38" y="272.35" width="3.2" height="3.2" fill="none" stroke="#A82E5E" stroke-width="0.9" opacity="0.95"/>
<rect x="198.11" y="271.43" width="3.2" height="3.2" fill="none" stroke="#A82E5E" stroke-width="0.9" opacity="0.95"/>
<rect x="201.40" y="271.92" width="3.2" height="3.2" fill="none" stroke="#A82E5E" stroke-width="0.9" opacity="0.95"/>
<rect x="203.71" y="271.40" width="3.2" height="3.2" fill="none" stroke="#A82E5E" stroke-width="0.9" opacity="0.95"/>
<rect x="205.73" y="272.27" width="3.2" height="3.2" fill="none" stroke="#A82E5E" stroke-width="0.9" opacity="0.95"/>
<rect x="207.87" y="272.53" width="3.2" height="3.2" fill="none" stroke="#A82E5E" stroke-width="0.9" opacity="0.95"/>
<rect x="211.08" y="271.44" width="3.2" height="3.2" fill="none" stroke="#A82E5E" stroke-width="0.9" opacity="0.95"/>
<rect x="212.43" y="272.05" width="3.2" height="3.2" fill="none" stroke="#A82E5E" stroke-width="0.9" opacity="0.95"/>
<rect x="215.93" y="271.86" width="3.2" height="3.2" fill="none" stroke="#A82E5E" stroke-width="0.9" opacity="0.95"/>
<rect x="217.46" y="271.91" width="3.2" height="3.2" fill="none" stroke="#A82E5E" stroke-width="0.9" opacity="0.95"/>
<rect x="219.63" y="271.67" width="3.2" height="3.2" fill="none" stroke="#A82E5E" stroke-width="0.9" opacity="0.95"/>
<rect x="222.53" y="271.99" width="3.2" height="3.2" fill="none" stroke="#A82E5E" stroke-width="0.9" opacity="0.95"/>
<rect x="224.68" y="271.68" width="3.2" height="3.2" fill="none" stroke="#A82E5E" stroke-width="0.9" opacity="0.95"/>
<rect x="227.06" y="271.95" width="3.2" height="3.2" fill="none" stroke="#A82E5E" stroke-width="0.9" opacity="0.95"/>
<rect x="229.55" y="271.43" width="3.2" height="3.2" fill="none" stroke="#A82E5E" stroke-width="0.9" opacity="0.95"/>
<rect x="232.61" y="272.07" width="3.2" height="3.2" fill="none" stroke="#A82E5E" stroke-width="0.9" opacity="0.95"/>
<rect x="234.77" y="271.62" width="3.2" height="3.2" fill="none" stroke="#A82E5E" stroke-width="0.9" opacity="0.95"/>
<rect x="237.59" y="272.43" width="3.2" height="3.2" fill="none" stroke="#A82E5E" stroke-width="0.9" opacity="0.95"/>
<rect x="238.95" y="271.80" width="3.2" height="3.2" fill="none" stroke="#A82E5E" stroke-width="0.9" opacity="0.95"/>
<rect x="242.07" y="272.25" width="3.2" height="3.2" fill="none" stroke="#A82E5E" stroke-width="0.9" opacity="0.95"/>
<rect x="244.72" y="271.91" width="3.2" height="3.2" fill="none" stroke="#A82E5E" stroke-width="0.9" opacity="0.95"/>
<polygon points="186.8,276.3 188.5,274.0 191.0,272.3 193.5,270.5 195.0,271.0 197.0,268.8 199.0,270.5 201.5,269.5 204.0,270.3 206.0,269.0 208.0,267.2 210.0,269.2 212.5,268.8 215.0,270.0 217.0,268.0 219.5,269.8 222.0,268.6 224.5,267.5 227.0,269.0 229.0,268.0 231.0,266.5 233.5,263.8 235.5,266.5 237.5,265.5 239.4,262.8 241.5,265.0 243.0,268.0 245.0,270.5 246.5,273.0 248.5,276.3" fill="#F6D746"/>
<polygon points="393.0,253.3 395.3,257.0 395.3,276.6 390.8,276.6 390.8,257.0" fill="#F6D746"/>
<polygon points="387.2,260.5 391.2,260.5 391.6,273.3 387.2,273.3" fill="#BC5A80"/>
<rect x="386.76" y="260.92" width="3.2" height="3.2" fill="none" stroke="#A82E5E" stroke-width="0.9" opacity="0.95"/>
<rect x="387.52" y="262.61" width="3.2" height="3.2" fill="none" stroke="#A82E5E" stroke-width="0.9" opacity="0.95"/>
<rect x="387.19" y="265.24" width="3.2" height="3.2" fill="none" stroke="#A82E5E" stroke-width="0.9" opacity="0.95"/>
<rect x="387.38" y="268.05" width="3.2" height="3.2" fill="none" stroke="#A82E5E" stroke-width="0.9" opacity="0.95"/>
<rect x="386.71" y="269.53" width="3.2" height="3.2" fill="none" stroke="#A82E5E" stroke-width="0.9" opacity="0.95"/>
<polygon points="238.3,391.0 240.8,392.0 244.0,400.0 246.5,409.5 229.5,409.5 233.0,401.5 235.8,394.0" fill="#F6D746"/>
<polygon points="389.5,384.0 395.0,385.5 398.0,390.0 400.0,396.0 400.0,402.0 398.0,406.0 388.0,406.0 386.5,399.0 387.0,391.0" fill="#BC5A80"/>
<rect x="389.22" y="383.71" width="3.2" height="3.2" fill="none" stroke="#A82E5E" stroke-width="0.9" opacity="0.95"/>
<rect x="391.29" y="383.94" width="3.2" height="3.2" fill="none" stroke="#A82E5E" stroke-width="0.9" opacity="0.95"/>
<rect x="386.90" y="386.32" width="3.2" height="3.2" fill="none" stroke="#A82E5E" stroke-width="0.9" opacity="0.95"/>
<rect x="389.21" y="385.80" width="3.2" height="3.2" fill="none" stroke="#A82E5E" stroke-width="0.9" opacity="0.95"/>
<rect x="391.23" y="386.67" width="3.2" height="3.2" fill="none" stroke="#A82E5E" stroke-width="0.9" opacity="0.95"/>
<rect x="393.37" y="386.93" width="3.2" height="3.2" fill="none" stroke="#A82E5E" stroke-width="0.9" opacity="0.95"/>
<rect x="385.93" y="388.85" width="3.2" height="3.2" fill="none" stroke="#A82E5E" stroke-width="0.9" opacity="0.95"/>
<rect x="389.43" y="388.66" width="3.2" height="3.2" fill="none" stroke="#A82E5E" stroke-width="0.9" opacity="0.95"/>
<rect x="390.96" y="388.71" width="3.2" height="3.2" fill="none" stroke="#A82E5E" stroke-width="0.9" opacity="0.95"/>
<rect x="393.13" y="388.47" width="3.2" height="3.2" fill="none" stroke="#A82E5E" stroke-width="0.9" opacity="0.95"/>
<rect x="396.03" y="388.79" width="3.2" height="3.2" fill="none" stroke="#A82E5E" stroke-width="0.9" opacity="0.95"/>
<rect x="386.18" y="390.88" width="3.2" height="3.2" fill="none" stroke="#A82E5E" stroke-width="0.9" opacity="0.95"/>
<rect x="388.56" y="391.15" width="3.2" height="3.2" fill="none" stroke="#A82E5E" stroke-width="0.9" opacity="0.95"/>
<rect x="391.05" y="390.63" width="3.2" height="3.2" fill="none" stroke="#A82E5E" stroke-width="0.9" opacity="0.95"/>
<rect x="394.11" y="391.27" width="3.2" height="3.2" fill="none" stroke="#A82E5E" stroke-width="0.9" opacity="0.95"/>
<rect x="396.27" y="390.82" width="3.2" height="3.2" fill="none" stroke="#A82E5E" stroke-width="0.9" opacity="0.95"/>
<rect x="387.09" y="394.03" width="3.2" height="3.2" fill="none" stroke="#A82E5E" stroke-width="0.9" opacity="0.95"/>
<rect x="388.45" y="393.40" width="3.2" height="3.2" fill="none" stroke="#A82E5E" stroke-width="0.9" opacity="0.95"/>
<rect x="391.57" y="393.85" width="3.2" height="3.2" fill="none" stroke="#A82E5E" stroke-width="0.9" opacity="0.95"/>
<rect x="394.22" y="393.51" width="3.2" height="3.2" fill="none" stroke="#A82E5E" stroke-width="0.9" opacity="0.95"/>
<rect x="396.50" y="393.80" width="3.2" height="3.2" fill="none" stroke="#A82E5E" stroke-width="0.9" opacity="0.95"/>
<rect x="386.26" y="396.11" width="3.2" height="3.2" fill="none" stroke="#A82E5E" stroke-width="0.9" opacity="0.95"/>
<rect x="389.36" y="396.42" width="3.2" height="3.2" fill="none" stroke="#A82E5E" stroke-width="0.9" opacity="0.95"/>
<rect x="391.31" y="396.11" width="3.2" height="3.2" fill="none" stroke="#A82E5E" stroke-width="0.9" opacity="0.95"/>
<rect x="393.14" y="395.69" width="3.2" height="3.2" fill="none" stroke="#A82E5E" stroke-width="0.9" opacity="0.95"/>
<rect x="396.46" y="395.90" width="3.2" height="3.2" fill="none" stroke="#A82E5E" stroke-width="0.9" opacity="0.95"/>
<rect x="386.11" y="398.46" width="3.2" height="3.2" fill="none" stroke="#A82E5E" stroke-width="0.9" opacity="0.95"/>
<rect x="389.14" y="398.61" width="3.2" height="3.2" fill="none" stroke="#A82E5E" stroke-width="0.9" opacity="0.95"/>
<rect x="391.15" y="398.33" width="3.2" height="3.2" fill="none" stroke="#A82E5E" stroke-width="0.9" opacity="0.95"/>
<rect x="393.71" y="398.73" width="3.2" height="3.2" fill="none" stroke="#A82E5E" stroke-width="0.9" opacity="0.95"/>
<rect x="396.13" y="398.27" width="3.2" height="3.2" fill="none" stroke="#A82E5E" stroke-width="0.9" opacity="0.95"/>
<rect x="386.49" y="400.24" width="3.2" height="3.2" fill="none" stroke="#A82E5E" stroke-width="0.9" opacity="0.95"/>
<rect x="388.35" y="401.04" width="3.2" height="3.2" fill="none" stroke="#A82E5E" stroke-width="0.9" opacity="0.95"/>
<rect x="391.88" y="400.91" width="3.2" height="3.2" fill="none" stroke="#A82E5E" stroke-width="0.9" opacity="0.95"/>
<rect x="393.57" y="400.40" width="3.2" height="3.2" fill="none" stroke="#A82E5E" stroke-width="0.9" opacity="0.95"/>
<rect x="396.10" y="401.38" width="3.2" height="3.2" fill="none" stroke="#A82E5E" stroke-width="0.9" opacity="0.95"/>
<rect x="386.82" y="403.25" width="3.2" height="3.2" fill="none" stroke="#A82E5E" stroke-width="0.9" opacity="0.95"/>
<rect x="389.33" y="402.88" width="3.2" height="3.2" fill="none" stroke="#A82E5E" stroke-width="0.9" opacity="0.95"/>
<rect x="391.32" y="403.74" width="3.2" height="3.2" fill="none" stroke="#A82E5E" stroke-width="0.9" opacity="0.95"/>
<rect x="393.79" y="403.15" width="3.2" height="3.2" fill="none" stroke="#A82E5E" stroke-width="0.9" opacity="0.95"/>
<rect x="395.82" y="403.26" width="3.2" height="3.2" fill="none" stroke="#A82E5E" stroke-width="0.9" opacity="0.95"/>
<polygon points="393.5,382.5 395.0,389.0 396.5,396.0 399.0,402.0 401.0,409.7 385.5,409.7 388.0,402.0 390.3,395.0 391.8,388.0" fill="#F6D746"/>
<polygon points="239.3,531.8 241.0,534.5 242.2,542.6 236.3,542.6 237.6,534.5" fill="#F6D746"/>
<rect x="83.60" y="131.80" width="3.2" height="3.2" fill="none" stroke="#A82E5E" stroke-width="0.9" opacity="0.95"/>
<rect x="87.00" y="131.40" width="3.2" height="3.2" fill="none" stroke="#A82E5E" stroke-width="0.9" opacity="0.95"/>
<rect x="85.20" y="133.90" width="3.2" height="3.2" fill="none" stroke="#A82E5E" stroke-width="0.9" opacity="0.95"/>
<rect x="87.60" y="134.90" width="3.2" height="3.2" fill="none" stroke="#A82E5E" stroke-width="0.9" opacity="0.95"/>
<rect x="83.40" y="135.60" width="3.2" height="3.2" fill="none" stroke="#A82E5E" stroke-width="0.9" opacity="0.95"/>
<rect x="82.40" y="140.40" width="3.2" height="3.2" fill="none" stroke="#A82E5E" stroke-width="0.9" opacity="0.95"/>
<rect x="85.90" y="132.60" width="3.2" height="3.2" fill="none" stroke="#A82E5E" stroke-width="0.9" opacity="0.95"/>
<polygon points="86.30,138.67 88.50,142.47 84.10,142.47" fill="none" stroke="#F6D746" stroke-width="0.95" opacity="0.9"/>
<polygon points="86.80,137.77 89.00,141.57 84.60,141.57" fill="none" stroke="#F6D746" stroke-width="0.95" opacity="0.9"/>
<polygon points="86.50,139.47 88.70,143.27 84.30,143.27" fill="none" stroke="#F6D746" stroke-width="0.95" opacity="0.9"/>
<path d="M87.10,137.60L90.30,140.80M87.10,140.80L90.30,137.60" stroke="#000004" stroke-width="0.85" opacity="0.9"/>
<path d="M84.60,140.70L87.80,143.90M84.60,143.90L87.80,140.70" stroke="#000004" stroke-width="0.85" opacity="0.9"/>
<rect x="214.90" y="140.10" width="3.2" height="3.2" fill="none" stroke="#A82E5E" stroke-width="0.9" opacity="0.95"/>
<rect x="217.90" y="140.10" width="3.2" height="3.2" fill="none" stroke="#A82E5E" stroke-width="0.9" opacity="0.95"/>
<rect x="220.90" y="140.10" width="3.2" height="3.2" fill="none" stroke="#A82E5E" stroke-width="0.9" opacity="0.95"/>
<rect x="223.90" y="140.10" width="3.2" height="3.2" fill="none" stroke="#A82E5E" stroke-width="0.9" opacity="0.95"/>
<rect x="226.90" y="140.10" width="3.2" height="3.2" fill="none" stroke="#A82E5E" stroke-width="0.9" opacity="0.95"/>
<rect x="229.40" y="140.10" width="3.2" height="3.2" fill="none" stroke="#A82E5E" stroke-width="0.9" opacity="0.95"/>
<rect x="231.90" y="140.10" width="3.2" height="3.2" fill="none" stroke="#A82E5E" stroke-width="0.9" opacity="0.95"/>
<rect x="234.40" y="140.10" width="3.2" height="3.2" fill="none" stroke="#A82E5E" stroke-width="0.9" opacity="0.95"/>
<rect x="236.90" y="140.10" width="3.2" height="3.2" fill="none" stroke="#A82E5E" stroke-width="0.9" opacity="0.95"/>
<rect x="239.40" y="140.10" width="3.2" height="3.2" fill="none" stroke="#A82E5E" stroke-width="0.9" opacity="0.95"/>
<rect x="241.90" y="140.10" width="3.2" height="3.2" fill="none" stroke="#A82E5E" stroke-width="0.9" opacity="0.95"/>
<rect x="244.40" y="140.10" width="3.2" height="3.2" fill="none" stroke="#A82E5E" stroke-width="0.9" opacity="0.95"/>
<rect x="246.90" y="140.10" width="3.2" height="3.2" fill="none" stroke="#A82E5E" stroke-width="0.9" opacity="0.95"/>
<rect x="249.40" y="140.10" width="3.2" height="3.2" fill="none" stroke="#A82E5E" stroke-width="0.9" opacity="0.95"/>
<rect x="251.90" y="140.10" width="3.2" height="3.2" fill="none" stroke="#A82E5E" stroke-width="0.9" opacity="0.95"/>
<rect x="254.40" y="140.10" width="3.2" height="3.2" fill="none" stroke="#A82E5E" stroke-width="0.9" opacity="0.95"/>
<rect x="214.90" y="140.10" width="3.2" height="3.2" fill="none" stroke="#A82E5E" stroke-width="0.9" opacity="0.95"/>
<rect x="217.90" y="140.10" width="3.2" height="3.2" fill="none" stroke="#A82E5E" stroke-width="0.9" opacity="0.95"/>
<rect x="220.90" y="140.10" width="3.2" height="3.2" fill="none" stroke="#A82E5E" stroke-width="0.9" opacity="0.95"/>
<rect x="223.90" y="140.10" width="3.2" height="3.2" fill="none" stroke="#A82E5E" stroke-width="0.9" opacity="0.95"/>
<rect x="226.90" y="140.10" width="3.2" height="3.2" fill="none" stroke="#A82E5E" stroke-width="0.9" opacity="0.95"/>
<rect x="229.40" y="140.10" width="3.2" height="3.2" fill="none" stroke="#A82E5E" stroke-width="0.9" opacity="0.95"/>
<rect x="231.90" y="140.10" width="3.2" height="3.2" fill="none" stroke="#A82E5E" stroke-width="0.9" opacity="0.95"/>
<rect x="234.40" y="140.10" width="3.2" height="3.2" fill="none" stroke="#A82E5E" stroke-width="0.9" opacity="0.95"/>
<rect x="236.90" y="140.10" width="3.2" height="3.2" fill="none" stroke="#A82E5E" stroke-width="0.9" opacity="0.95"/>
<rect x="239.40" y="140.10" width="3.2" height="3.2" fill="none" stroke="#A82E5E" stroke-width="0.9" opacity="0.95"/>
<rect x="241.90" y="140.10" width="3.2" height="3.2" fill="none" stroke="#A82E5E" stroke-width="0.9" opacity="0.95"/>
<rect x="244.40" y="140.10" width="3.2" height="3.2" fill="none" stroke="#A82E5E" stroke-width="0.9" opacity="0.95"/>
<rect x="246.90" y="140.10" width="3.2" height="3.2" fill="none" stroke="#A82E5E" stroke-width="0.9" opacity="0.95"/>
<rect x="249.40" y="140.10" width="3.2" height="3.2" fill="none" stroke="#A82E5E" stroke-width="0.9" opacity="0.95"/>
<rect x="251.90" y="140.10" width="3.2" height="3.2" fill="none" stroke="#A82E5E" stroke-width="0.9" opacity="0.95"/>
<rect x="254.40" y="140.10" width="3.2" height="3.2" fill="none" stroke="#A82E5E" stroke-width="0.9" opacity="0.95"/>
<rect x="256.40" y="138.70" width="3.2" height="3.2" fill="none" stroke="#A82E5E" stroke-width="0.9" opacity="0.95"/>
<rect x="232.00" y="130.00" width="3.2" height="3.2" fill="none" stroke="#A82E5E" stroke-width="0.9" opacity="0.95"/>
<rect x="234.90" y="129.80" width="3.2" height="3.2" fill="none" stroke="#A82E5E" stroke-width="0.9" opacity="0.95"/>
<rect x="237.90" y="129.60" width="3.2" height="3.2" fill="none" stroke="#A82E5E" stroke-width="0.9" opacity="0.95"/>
<rect x="240.90" y="130.00" width="3.2" height="3.2" fill="none" stroke="#A82E5E" stroke-width="0.9" opacity="0.95"/>
<rect x="232.20" y="132.90" width="3.2" height="3.2" fill="none" stroke="#A82E5E" stroke-width="0.9" opacity="0.95"/>
<rect x="232.20" y="135.90" width="3.2" height="3.2" fill="none" stroke="#A82E5E" stroke-width="0.9" opacity="0.95"/>
<rect x="242.40" y="133.40" width="3.2" height="3.2" fill="none" stroke="#A82E5E" stroke-width="0.9" opacity="0.95"/>
<rect x="242.40" y="136.60" width="3.2" height="3.2" fill="none" stroke="#A82E5E" stroke-width="0.9" opacity="0.95"/>
<rect x="242.90" y="139.40" width="3.2" height="3.2" fill="none" stroke="#A82E5E" stroke-width="0.9" opacity="0.95"/>
<rect x="238.90" y="132.40" width="3.2" height="3.2" fill="none" stroke="#A82E5E" stroke-width="0.9" opacity="0.95"/>
<rect x="234.40" y="134.90" width="3.2" height="3.2" fill="none" stroke="#A82E5E" stroke-width="0.9" opacity="0.95"/>
<rect x="232.00" y="130.00" width="3.2" height="3.2" fill="none" stroke="#A82E5E" stroke-width="0.9" opacity="0.95"/>
<rect x="234.90" y="129.80" width="3.2" height="3.2" fill="none" stroke="#A82E5E" stroke-width="0.9" opacity="0.95"/>
<rect x="237.90" y="129.60" width="3.2" height="3.2" fill="none" stroke="#A82E5E" stroke-width="0.9" opacity="0.95"/>
<rect x="240.90" y="130.00" width="3.2" height="3.2" fill="none" stroke="#A82E5E" stroke-width="0.9" opacity="0.95"/>
<rect x="232.20" y="132.90" width="3.2" height="3.2" fill="none" stroke="#A82E5E" stroke-width="0.9" opacity="0.95"/>
<rect x="232.20" y="135.90" width="3.2" height="3.2" fill="none" stroke="#A82E5E" stroke-width="0.9" opacity="0.95"/>
<rect x="242.40" y="133.40" width="3.2" height="3.2" fill="none" stroke="#A82E5E" stroke-width="0.9" opacity="0.95"/>
<rect x="242.40" y="136.60" width="3.2" height="3.2" fill="none" stroke="#A82E5E" stroke-width="0.9" opacity="0.95"/>
<rect x="241.40" y="130.90" width="3.2" height="3.2" fill="none" stroke="#A82E5E" stroke-width="0.9" opacity="0.95"/>
<path d="M215.40,140.10L218.60,143.30M215.40,143.30L218.60,140.10" stroke="#000004" stroke-width="0.85" opacity="0.9"/>
<path d="M219.40,140.10L222.60,143.30M219.40,143.30L222.60,140.10" stroke="#000004" stroke-width="0.85" opacity="0.9"/>
<path d="M222.90,140.10L226.10,143.30M222.90,143.30L226.10,140.10" stroke="#000004" stroke-width="0.85" opacity="0.9"/>
<path d="M226.40,140.10L229.60,143.30M226.40,143.30L229.60,140.10" stroke="#000004" stroke-width="0.85" opacity="0.9"/>
<path d="M244.90,140.10L248.10,143.30M244.90,143.30L248.10,140.10" stroke="#000004" stroke-width="0.85" opacity="0.9"/>
<path d="M249.90,140.10L253.10,143.30M249.90,143.30L253.10,140.10" stroke="#000004" stroke-width="0.85" opacity="0.9"/>
<path d="M264.80,140.00L268.00,143.20M264.80,143.20L268.00,140.00" stroke="#000004" stroke-width="0.85" opacity="0.9"/>
<path d="M225.70,136.00L228.90,139.20M225.70,139.20L228.90,136.00" stroke="#000004" stroke-width="0.85" opacity="0.9"/>
<path d="M228.40,135.20L231.60,138.40M228.40,138.40L231.60,135.20" stroke="#000004" stroke-width="0.85" opacity="0.9"/>
<path d="M231.90,130.90L235.10,134.10M231.90,134.10L235.10,130.90" stroke="#000004" stroke-width="0.85" opacity="0.9"/>
<path d="M233.90,132.90L237.10,136.10M233.90,136.10L237.10,132.90" stroke="#000004" stroke-width="0.85" opacity="0.9"/>
<path d="M239.90,131.40L243.10,134.60M239.90,134.60L243.10,131.40" stroke="#000004" stroke-width="0.85" opacity="0.9"/>
<polygon points="229.40,130.07 231.60,133.87 227.20,133.87" fill="none" stroke="#F6D746" stroke-width="0.95" opacity="0.9"/>
<polygon points="250.50,138.67 252.70,142.47 248.30,142.47" fill="none" stroke="#F6D746" stroke-width="0.95" opacity="0.9"/>
<polygon points="254.50,138.67 256.70,142.47 252.30,142.47" fill="none" stroke="#F6D746" stroke-width="0.95" opacity="0.9"/>
<polygon points="233.50,138.67 235.70,142.47 231.30,142.47" fill="none" stroke="#F6D746" stroke-width="0.95" opacity="0.9"/>
<polygon points="236.00,136.97 238.20,140.77 233.80,140.77" fill="none" stroke="#F6D746" stroke-width="0.95" opacity="0.9"/>
<polygon points="243.00,138.77 245.20,142.57 240.80,142.57" fill="none" stroke="#F6D746" stroke-width="0.95" opacity="0.9"/>
<polygon points="239.40,129.47 241.60,133.27 237.20,133.27" fill="none" stroke="#F6D746" stroke-width="0.95" opacity="0.9"/>
<rect x="318.20" y="140.20" width="3.2" height="3.2" fill="none" stroke="#A82E5E" stroke-width="0.9" opacity="0.95"/>
<path d="M318.20,140.20L321.40,143.40M318.20,143.40L321.40,140.20" stroke="#000004" stroke-width="0.85" opacity="0.9"/>
<rect x="318.20" y="140.20" width="3.2" height="3.2" fill="none" stroke="#A82E5E" stroke-width="0.9" opacity="0.95"/>
<rect x="385.50" y="130.40" width="1.4" height="1.2" fill="#A82E5E" opacity="0.75"/>
<rect x="388.50" y="125.90" width="1.4" height="1.2" fill="#A82E5E" opacity="0.75"/>
<rect x="394.80" y="132.60" width="1.4" height="1.2" fill="#A82E5E" opacity="0.75"/>
<rect x="397.30" y="137.90" width="1.4" height="1.2" fill="#A82E5E" opacity="0.75"/>
<rect x="383.50" y="136.60" width="1.4" height="1.2" fill="#A82E5E" opacity="0.75"/>
<rect x="387.80" y="120.90" width="1.4" height="1.2" fill="#A82E5E" opacity="0.75"/>
<rect x="399.80" y="128.90" width="1.4" height="1.2" fill="#A82E5E" opacity="0.75"/>
<rect x="390.30" y="134.40" width="1.4" height="1.2" fill="#A82E5E" opacity="0.75"/>
<rect x="386.30" y="139.90" width="1.4" height="1.2" fill="#A82E5E" opacity="0.75"/>
<rect x="392.80" y="128.40" width="1.4" height="1.2" fill="#A82E5E" opacity="0.75"/>
<rect x="382.30" y="132.90" width="1.4" height="1.2" fill="#A82E5E" opacity="0.75"/>
<rect x="395.80" y="140.90" width="1.4" height="1.2" fill="#A82E5E" opacity="0.75"/>
<rect x="389.80" y="122.90" width="1.4" height="1.2" fill="#A82E5E" opacity="0.75"/>
<rect x="390.50" y="85.00" width="3.2" height="3.2" fill="none" stroke="#A82E5E" stroke-width="0.9" opacity="0.95"/>
<rect x="391.00" y="88.80" width="3.2" height="3.2" fill="none" stroke="#A82E5E" stroke-width="0.9" opacity="0.95"/>
<rect x="395.00" y="104.40" width="3.2" height="3.2" fill="none" stroke="#A82E5E" stroke-width="0.9" opacity="0.95"/>
<rect x="398.30" y="112.70" width="3.2" height="3.2" fill="none" stroke="#A82E5E" stroke-width="0.9" opacity="0.95"/>
<rect x="408.90" y="127.20" width="3.2" height="3.2" fill="none" stroke="#A82E5E" stroke-width="0.9" opacity="0.95"/>
<rect x="417.20" y="127.20" width="3.2" height="3.2" fill="none" stroke="#A82E5E" stroke-width="0.9" opacity="0.95"/>
<rect x="420.70" y="131.90" width="3.2" height="3.2" fill="none" stroke="#A82E5E" stroke-width="0.9" opacity="0.95"/>
<rect x="425.40" y="136.60" width="3.2" height="3.2" fill="none" stroke="#A82E5E" stroke-width="0.9" opacity="0.95"/>
<rect x="437.20" y="135.20" width="3.2" height="3.2" fill="none" stroke="#A82E5E" stroke-width="0.9" opacity="0.95"/>
<rect x="454.20" y="140.40" width="3.2" height="3.2" fill="none" stroke="#A82E5E" stroke-width="0.9" opacity="0.95"/>
<rect x="454.20" y="140.40" width="3.2" height="3.2" fill="none" stroke="#A82E5E" stroke-width="0.9" opacity="0.95"/>
<rect x="459.90" y="136.90" width="3.2" height="3.2" fill="none" stroke="#A82E5E" stroke-width="0.9" opacity="0.95"/>
<rect x="377.70" y="128.80" width="3.2" height="3.2" fill="none" stroke="#A82E5E" stroke-width="0.9" opacity="0.95"/>
<rect x="381.90" y="126.40" width="3.2" height="3.2" fill="none" stroke="#A82E5E" stroke-width="0.9" opacity="0.95"/>
<rect x="374.20" y="132.10" width="3.2" height="3.2" fill="none" stroke="#A82E5E" stroke-width="0.9" opacity="0.95"/>
<rect x="370.50" y="133.80" width="3.2" height="3.2" fill="none" stroke="#A82E5E" stroke-width="0.9" opacity="0.95"/>
<rect x="375.00" y="138.70" width="3.2" height="3.2" fill="none" stroke="#A82E5E" stroke-width="0.9" opacity="0.95"/>
<rect x="409.20" y="132.90" width="3.2" height="3.2" fill="none" stroke="#A82E5E" stroke-width="0.9" opacity="0.95"/>
<rect x="413.40" y="136.60" width="3.2" height="3.2" fill="none" stroke="#A82E5E" stroke-width="0.9" opacity="0.95"/>
<rect x="388.40" y="98.90" width="3.2" height="3.2" fill="none" stroke="#A82E5E" stroke-width="0.9" opacity="0.95"/>
<rect x="391.40" y="97.40" width="3.2" height="3.2" fill="none" stroke="#A82E5E" stroke-width="0.9" opacity="0.95"/>
<rect x="389.90" y="102.40" width="3.2" height="3.2" fill="none" stroke="#A82E5E" stroke-width="0.9" opacity="0.95"/>
<rect x="387.90" y="105.90" width="3.2" height="3.2" fill="none" stroke="#A82E5E" stroke-width="0.9" opacity="0.95"/>
<rect x="392.40" y="109.40" width="3.2" height="3.2" fill="none" stroke="#A82E5E" stroke-width="0.9" opacity="0.95"/>
<rect x="386.40" y="114.90" width="3.2" height="3.2" fill="none" stroke="#A82E5E" stroke-width="0.9" opacity="0.95"/>
<rect x="389.40" y="121.40" width="3.2" height="3.2" fill="none" stroke="#A82E5E" stroke-width="0.9" opacity="0.95"/>
<rect x="384.40" y="121.90" width="3.2" height="3.2" fill="none" stroke="#A82E5E" stroke-width="0.9" opacity="0.95"/>
<rect x="379.90" y="127.40" width="3.2" height="3.2" fill="none" stroke="#A82E5E" stroke-width="0.9" opacity="0.95"/>
<path d="M370.50,133.80L373.70,137.00M370.50,137.00L373.70,133.80" stroke="#000004" stroke-width="0.85" opacity="0.9"/>
<path d="M375.00,138.70L378.20,141.90M375.00,141.90L378.20,138.70" stroke="#000004" stroke-width="0.85" opacity="0.9"/>
<path d="M376.80,134.50L380.00,137.70M376.80,137.70L380.00,134.50" stroke="#000004" stroke-width="0.85" opacity="0.9"/>
<path d="M388.00,109.60L391.20,112.80M388.00,112.80L391.20,109.60" stroke="#000004" stroke-width="0.85" opacity="0.9"/>
<path d="M394.00,114.00L397.20,117.20M394.00,117.20L397.20,114.00" stroke="#000004" stroke-width="0.85" opacity="0.9"/>
<path d="M398.00,120.80L401.20,124.00M398.00,124.00L401.20,120.80" stroke="#000004" stroke-width="0.85" opacity="0.9"/>
<path d="M414.90,133.60L418.10,136.80M414.90,136.80L418.10,133.60" stroke="#000004" stroke-width="0.85" opacity="0.9"/>
<path d="M416.90,139.70L420.10,142.90M416.90,142.90L420.10,139.70" stroke="#000004" stroke-width="0.85" opacity="0.9"/>
<path d="M428.40,139.60L431.60,142.80M428.40,142.80L431.60,139.60" stroke="#000004" stroke-width="0.85" opacity="0.9"/>
<path d="M433.40,138.90L436.60,142.10M433.40,142.10L436.60,138.90" stroke="#000004" stroke-width="0.85" opacity="0.9"/>
<path d="M442.40,140.20L445.60,143.40M442.40,143.40L445.60,140.20" stroke="#000004" stroke-width="0.85" opacity="0.9"/>
<path d="M390.40,102.90L393.60,106.10M390.40,106.10L393.60,102.90" stroke="#000004" stroke-width="0.85" opacity="0.9"/>
<path d="M389.40,95.90L392.60,99.10M389.40,99.10L392.60,95.90" stroke="#000004" stroke-width="0.85" opacity="0.9"/>
<path d="M391.90,106.40L395.10,109.60M391.90,109.60L395.10,106.40" stroke="#000004" stroke-width="0.85" opacity="0.9"/>
<path d="M381.90,140.20L385.10,143.40M381.90,143.40L385.10,140.20" stroke="#000004" stroke-width="0.85" opacity="0.9"/>
<path d="M385.40,139.90L388.60,143.10M385.40,143.10L388.60,139.90" stroke="#000004" stroke-width="0.85" opacity="0.9"/>
<path d="M399.40,136.90L402.60,140.10M399.40,140.10L402.60,136.90" stroke="#000004" stroke-width="0.85" opacity="0.9"/>
<path d="M402.40,140.40L405.60,143.60M402.40,143.60L405.60,140.40" stroke="#000004" stroke-width="0.85" opacity="0.9"/>
<rect x="400.90" y="125.90" width="3.2" height="3.2" fill="none" stroke="#A82E5E" stroke-width="0.9" opacity="0.95"/>
<rect x="402.40" y="129.40" width="3.2" height="3.2" fill="none" stroke="#A82E5E" stroke-width="0.9" opacity="0.95"/>
<rect x="403.90" y="133.40" width="3.2" height="3.2" fill="none" stroke="#A82E5E" stroke-width="0.9" opacity="0.95"/>
<rect x="406.40" y="132.40" width="3.2" height="3.2" fill="none" stroke="#A82E5E" stroke-width="0.9" opacity="0.95"/>
<rect x="411.90" y="136.90" width="3.2" height="3.2" fill="none" stroke="#A82E5E" stroke-width="0.9" opacity="0.95"/>
<rect x="414.90" y="139.40" width="3.2" height="3.2" fill="none" stroke="#A82E5E" stroke-width="0.9" opacity="0.95"/>
<rect x="407.40" y="137.40" width="3.2" height="3.2" fill="none" stroke="#A82E5E" stroke-width="0.9" opacity="0.95"/>
<rect x="401.40" y="138.40" width="3.2" height="3.2" fill="none" stroke="#A82E5E" stroke-width="0.9" opacity="0.95"/>
<rect x="404.40" y="140.40" width="3.2" height="3.2" fill="none" stroke="#A82E5E" stroke-width="0.9" opacity="0.95"/>
<rect x="409.40" y="139.90" width="3.2" height="3.2" fill="none" stroke="#A82E5E" stroke-width="0.9" opacity="0.95"/>
<polygon points="406.30,128.97 408.50,132.77 404.10,132.77" fill="none" stroke="#F6D746" stroke-width="0.95" opacity="0.9"/>
<polygon points="408.00,134.97 410.20,138.77 405.80,138.77" fill="none" stroke="#F6D746" stroke-width="0.95" opacity="0.9"/>
<polygon points="402.50,131.47 404.70,135.27 400.30,135.27" fill="none" stroke="#F6D746" stroke-width="0.95" opacity="0.9"/>
<polygon points="404.00,137.97 406.20,141.77 401.80,141.77" fill="none" stroke="#F6D746" stroke-width="0.95" opacity="0.9"/>
<polygon points="400.00,135.47 402.20,139.27 397.80,139.27" fill="none" stroke="#F6D746" stroke-width="0.95" opacity="0.9"/>
<polygon points="378.70,113.27 380.90,117.07 376.50,117.07" fill="none" stroke="#F6D746" stroke-width="0.95" opacity="0.9"/>
<polygon points="369.70,137.67 371.90,141.47 367.50,141.47" fill="none" stroke="#F6D746" stroke-width="0.95" opacity="0.9"/>
<polygon points="412.30,138.47 414.50,142.27 410.10,142.27" fill="none" stroke="#F6D746" stroke-width="0.95" opacity="0.9"/>
<polygon points="415.00,138.77 417.20,142.57 412.80,142.57" fill="none" stroke="#F6D746" stroke-width="0.95" opacity="0.9"/>
<polygon points="422.00,138.67 424.20,142.47 419.80,142.47" fill="none" stroke="#F6D746" stroke-width="0.95" opacity="0.9"/>
<polygon points="425.00,138.67 427.20,142.47 422.80,142.47" fill="none" stroke="#F6D746" stroke-width="0.95" opacity="0.9"/>
<polygon points="434.50,138.67 436.70,142.47 432.30,142.47" fill="none" stroke="#F6D746" stroke-width="0.95" opacity="0.9"/>
<polygon points="436.00,138.97 438.20,142.77 433.80,142.77" fill="none" stroke="#F6D746" stroke-width="0.95" opacity="0.9"/>
<polygon points="439.20,138.67 441.40,142.47 437.00,142.47" fill="none" stroke="#F6D746" stroke-width="0.95" opacity="0.9"/>
<polygon points="387.50,113.97 389.70,117.77 385.30,117.77" fill="none" stroke="#F6D746" stroke-width="0.95" opacity="0.9"/>
<path d="M47.40,272.90L50.60,276.10M47.40,276.10L50.60,272.90" stroke="#000004" stroke-width="0.85" opacity="0.9"/>
<path d="M47.90,272.90L51.10,276.10M47.90,276.10L51.10,272.90" stroke="#000004" stroke-width="0.85" opacity="0.9"/>
<path d="M54.00,272.90L57.20,276.10M54.00,276.10L57.20,272.90" stroke="#000004" stroke-width="0.85" opacity="0.9"/>
<rect x="80.80" y="258.60" width="3.2" height="3.2" fill="none" stroke="#A82E5E" stroke-width="0.9" opacity="0.95"/>
<rect x="81.00" y="260.90" width="3.2" height="3.2" fill="none" stroke="#A82E5E" stroke-width="0.9" opacity="0.95"/>
<rect x="77.90" y="263.40" width="3.2" height="3.2" fill="none" stroke="#A82E5E" stroke-width="0.9" opacity="0.95"/>
<rect x="76.40" y="266.40" width="3.2" height="3.2" fill="none" stroke="#A82E5E" stroke-width="0.9" opacity="0.95"/>
<rect x="75.40" y="269.40" width="3.2" height="3.2" fill="none" stroke="#A82E5E" stroke-width="0.9" opacity="0.95"/>
<rect x="87.40" y="264.90" width="3.2" height="3.2" fill="none" stroke="#A82E5E" stroke-width="0.9" opacity="0.95"/>
<rect x="88.40" y="268.40" width="3.2" height="3.2" fill="none" stroke="#A82E5E" stroke-width="0.9" opacity="0.95"/>
<rect x="88.40" y="271.90" width="3.2" height="3.2" fill="none" stroke="#A82E5E" stroke-width="0.9" opacity="0.95"/>
<rect x="86.90" y="274.40" width="3.2" height="3.2" fill="none" stroke="#A82E5E" stroke-width="0.9" opacity="0.95"/>
<rect x="82.40" y="274.90" width="3.2" height="3.2" fill="none" stroke="#A82E5E" stroke-width="0.9" opacity="0.95"/>
<rect x="77.40" y="274.90" width="3.2" height="3.2" fill="none" stroke="#A82E5E" stroke-width="0.9" opacity="0.95"/>
<rect x="74.40" y="273.90" width="3.2" height="3.2" fill="none" stroke="#A82E5E" stroke-width="0.9" opacity="0.95"/>
<rect x="84.40" y="261.20" width="3.2" height="3.2" fill="none" stroke="#A82E5E" stroke-width="0.9" opacity="0.95"/>
<rect x="87.90" y="274.70" width="3.2" height="3.2" fill="none" stroke="#A82E5E" stroke-width="0.9" opacity="0.95"/>
<rect x="79.40" y="274.70" width="3.2" height="3.2" fill="none" stroke="#A82E5E" stroke-width="0.9" opacity="0.95"/>
<rect x="83.90" y="274.90" width="3.2" height="3.2" fill="none" stroke="#A82E5E" stroke-width="0.9" opacity="0.95"/>
<polygon points="75.50,271.27 77.70,275.07 73.30,275.07" fill="none" stroke="#F6D746" stroke-width="0.95" opacity="0.9"/>
<polygon points="88.50,270.47 90.70,274.27 86.30,274.27" fill="none" stroke="#F6D746" stroke-width="0.95" opacity="0.9"/>
<polygon points="83.00,261.97 85.20,265.77 80.80,265.77" fill="none" stroke="#F6D746" stroke-width="0.95" opacity="0.9"/>
<polygon points="86.00,262.47 88.20,266.27 83.80,266.27" fill="none" stroke="#F6D746" stroke-width="0.95" opacity="0.9"/>
<polygon points="79.50,266.97 81.70,270.77 77.30,270.77" fill="none" stroke="#F6D746" stroke-width="0.95" opacity="0.9"/>
<polygon points="82.00,267.47 84.20,271.27 79.80,271.27" fill="none" stroke="#F6D746" stroke-width="0.95" opacity="0.9"/>
<polygon points="85.00,267.97 87.20,271.77 82.80,271.77" fill="none" stroke="#F6D746" stroke-width="0.95" opacity="0.9"/>
<polygon points="78.50,271.47 80.70,275.27 76.30,275.27" fill="none" stroke="#F6D746" stroke-width="0.95" opacity="0.9"/>
<polygon points="84.00,271.47 86.20,275.27 81.80,275.27" fill="none" stroke="#F6D746" stroke-width="0.95" opacity="0.9"/>
<polygon points="87.50,271.67 89.70,275.47 85.30,275.47" fill="none" stroke="#F6D746" stroke-width="0.95" opacity="0.9"/>
<path d="M86.00,261.90L89.20,265.10M86.00,265.10L89.20,261.90" stroke="#000004" stroke-width="0.85" opacity="0.9"/>
<path d="M88.10,266.70L91.30,269.90M88.10,269.90L91.30,266.70" stroke="#000004" stroke-width="0.85" opacity="0.9"/>
<path d="M82.40,262.90L85.60,266.10M82.40,266.10L85.60,262.90" stroke="#000004" stroke-width="0.85" opacity="0.9"/>
<path d="M78.40,273.40L81.60,276.60M78.40,276.60L81.60,273.40" stroke="#000004" stroke-width="0.85" opacity="0.9"/>
<path d="M84.90,273.90L88.10,277.10M84.90,277.10L88.10,273.90" stroke="#000004" stroke-width="0.85" opacity="0.9"/>
<path d="M87.00,269.90L90.20,273.10M87.00,273.10L90.20,269.90" stroke="#000004" stroke-width="0.85" opacity="0.9"/>
<rect x="183.00" y="271.20" width="3.2" height="3.2" fill="none" stroke="#A82E5E" stroke-width="0.9" opacity="0.95"/>
<polygon points="188.00,271.27 190.20,275.07 185.80,275.07" fill="none" stroke="#F6D746" stroke-width="0.95" opacity="0.9"/>
<polygon points="190.50,269.67 192.70,273.47 188.30,273.47" fill="none" stroke="#F6D746" stroke-width="0.95" opacity="0.9"/>
<polygon points="192.30,272.07 194.50,275.87 190.10,275.87" fill="none" stroke="#F6D746" stroke-width="0.95" opacity="0.9"/>
<polygon points="187.60,272.77 189.80,276.57 185.40,276.57" fill="none" stroke="#F6D746" stroke-width="0.95" opacity="0.9"/>
<polygon points="196.00,266.47 198.20,270.27 193.80,270.27" fill="none" stroke="#F6D746" stroke-width="0.95" opacity="0.9"/>
<polygon points="208.00,265.97 210.20,269.77 205.80,269.77" fill="none" stroke="#F6D746" stroke-width="0.95" opacity="0.9"/>
<polygon points="216.20,266.47 218.40,270.27 214.00,270.27" fill="none" stroke="#F6D746" stroke-width="0.95" opacity="0.9"/>
<polygon points="233.50,260.67 235.70,264.47 231.30,264.47" fill="none" stroke="#F6D746" stroke-width="0.95" opacity="0.9"/>
<polygon points="239.40,257.27 241.60,261.07 237.20,261.07" fill="none" stroke="#F6D746" stroke-width="0.95" opacity="0.9"/>
<polygon points="239.40,259.47 241.60,263.27 237.20,263.27" fill="none" stroke="#F6D746" stroke-width="0.95" opacity="0.9"/>
<polygon points="237.00,262.47 239.20,266.27 234.80,266.27" fill="none" stroke="#F6D746" stroke-width="0.95" opacity="0.9"/>
<polygon points="241.50,263.97 243.70,267.77 239.30,267.77" fill="none" stroke="#F6D746" stroke-width="0.95" opacity="0.9"/>
<polygon points="244.50,267.97 246.70,271.77 242.30,271.77" fill="none" stroke="#F6D746" stroke-width="0.95" opacity="0.9"/>
<polygon points="231.00,264.47 233.20,268.27 228.80,268.27" fill="none" stroke="#F6D746" stroke-width="0.95" opacity="0.9"/>
<polygon points="225.00,265.97 227.20,269.77 222.80,269.77" fill="none" stroke="#F6D746" stroke-width="0.95" opacity="0.9"/>
<polygon points="203.00,267.97 205.20,271.77 200.80,271.77" fill="none" stroke="#F6D746" stroke-width="0.95" opacity="0.9"/>
<rect x="208.40" y="266.70" width="3.2" height="3.2" fill="none" stroke="#A82E5E" stroke-width="0.9" opacity="0.95"/>
<rect x="217.40" y="268.70" width="3.2" height="3.2" fill="none" stroke="#A82E5E" stroke-width="0.9" opacity="0.95"/>
<rect x="229.00" y="266.60" width="3.2" height="3.2" fill="none" stroke="#A82E5E" stroke-width="0.9" opacity="0.95"/>
<rect x="235.20" y="263.90" width="3.2" height="3.2" fill="none" stroke="#A82E5E" stroke-width="0.9" opacity="0.95"/>
<rect x="241.90" y="266.70" width="3.2" height="3.2" fill="none" stroke="#A82E5E" stroke-width="0.9" opacity="0.95"/>
<rect x="244.90" y="269.40" width="3.2" height="3.2" fill="none" stroke="#A82E5E" stroke-width="0.9" opacity="0.95"/>
<rect x="248.40" y="272.60" width="3.2" height="3.2" fill="none" stroke="#A82E5E" stroke-width="0.9" opacity="0.95"/>
<rect x="252.40" y="272.60" width="3.2" height="3.2" fill="none" stroke="#A82E5E" stroke-width="0.9" opacity="0.95"/>
<rect x="264.40" y="272.90" width="3.2" height="3.2" fill="none" stroke="#A82E5E" stroke-width="0.9" opacity="0.95"/>
<rect x="269.90" y="272.90" width="3.2" height="3.2" fill="none" stroke="#A82E5E" stroke-width="0.9" opacity="0.95"/>
<path d="M191.90,269.60L195.10,272.80M191.90,272.80L195.10,269.60" stroke="#000004" stroke-width="0.85" opacity="0.9"/>
<path d="M196.40,268.90L199.60,272.10M196.40,272.10L199.60,268.90" stroke="#000004" stroke-width="0.85" opacity="0.9"/>
<path d="M208.40,265.20L211.60,268.40M208.40,268.40L211.60,265.20" stroke="#000004" stroke-width="0.85" opacity="0.9"/>
<path d="M216.40,266.80L219.60,270.00M216.40,270.00L219.60,266.80" stroke="#000004" stroke-width="0.85" opacity="0.9"/>
<path d="M234.40,262.40L237.60,265.60M234.40,265.60L237.60,262.40" stroke="#000004" stroke-width="0.85" opacity="0.9"/>
<path d="M248.40,271.90L251.60,275.10M248.40,275.10L251.60,271.90" stroke="#000004" stroke-width="0.85" opacity="0.9"/>
<path d="M252.40,271.70L255.60,274.90M252.40,274.90L255.60,271.70" stroke="#000004" stroke-width="0.85" opacity="0.9"/>
<path d="M258.00,271.60L261.20,274.80M258.00,274.80L261.20,271.60" stroke="#000004" stroke-width="0.85" opacity="0.9"/>
<path d="M264.40,271.00L267.60,274.20M264.40,274.20L267.60,271.00" stroke="#000004" stroke-width="0.85" opacity="0.9"/>
<path d="M269.90,271.00L273.10,274.20M269.90,274.20L273.10,271.00" stroke="#000004" stroke-width="0.85" opacity="0.9"/>
<path d="M239.40,265.40L242.60,268.60M239.40,268.60L242.60,265.40" stroke="#000004" stroke-width="0.85" opacity="0.9"/>
<polygon points="393.40,230.97 395.60,234.77 391.20,234.77" fill="none" stroke="#F6D746" stroke-width="0.95" opacity="0.9"/>
<polygon points="395.80,239.97 398.00,243.77 393.60,243.77" fill="none" stroke="#F6D746" stroke-width="0.95" opacity="0.9"/>
<polygon points="392.50,242.27 394.70,246.07 390.30,246.07" fill="none" stroke="#F6D746" stroke-width="0.95" opacity="0.9"/>
<polygon points="387.50,246.27 389.70,250.07 385.30,250.07" fill="none" stroke="#F6D746" stroke-width="0.95" opacity="0.9"/>
<polygon points="393.00,244.97 395.20,248.77 390.80,248.77" fill="none" stroke="#F6D746" stroke-width="0.95" opacity="0.9"/>
<polygon points="392.80,248.47 395.00,252.27 390.60,252.27" fill="none" stroke="#F6D746" stroke-width="0.95" opacity="0.9"/>
<polygon points="396.70,257.97 398.90,261.77 394.50,261.77" fill="none" stroke="#F6D746" stroke-width="0.95" opacity="0.9"/>
<polygon points="388.60,257.07 390.80,260.87 386.40,260.87" fill="none" stroke="#F6D746" stroke-width="0.95" opacity="0.9"/>
<polygon points="386.20,265.77 388.40,269.57 384.00,269.57" fill="none" stroke="#F6D746" stroke-width="0.95" opacity="0.9"/>
<polygon points="393.00,252.47 395.20,256.27 390.80,256.27" fill="none" stroke="#F6D746" stroke-width="0.95" opacity="0.9"/>
<rect x="387.40" y="260.90" width="3.2" height="3.2" fill="none" stroke="#A82E5E" stroke-width="0.9" opacity="0.95"/>
<rect x="387.70" y="264.40" width="3.2" height="3.2" fill="none" stroke="#A82E5E" stroke-width="0.9" opacity="0.95"/>
<rect x="387.40" y="268.40" width="3.2" height="3.2" fill="none" stroke="#A82E5E" stroke-width="0.9" opacity="0.95"/>
<rect x="388.40" y="270.70" width="3.2" height="3.2" fill="none" stroke="#A82E5E" stroke-width="0.9" opacity="0.95"/>
<path d="M385.40,266.80L388.60,270.00M385.40,270.00L388.60,266.80" stroke="#000004" stroke-width="0.85" opacity="0.9"/>
<path d="M387.40,262.90L390.60,266.10M387.40,266.10L390.60,262.90" stroke="#000004" stroke-width="0.85" opacity="0.9"/>
<path d="M394.80,272.80L398.00,276.00M394.80,276.00L398.00,272.80" stroke="#000004" stroke-width="0.85" opacity="0.9"/>
<path d="M407.60,272.90L410.80,276.10M407.60,276.10L410.80,272.90" stroke="#000004" stroke-width="0.85" opacity="0.9"/>
<path d="M386.90,269.90L390.10,273.10M386.90,273.10L390.10,269.90" stroke="#000004" stroke-width="0.85" opacity="0.9"/>
<polygon points="82.10,358.27 84.30,362.07 79.90,362.07" fill="none" stroke="#F6D746" stroke-width="0.95" opacity="0.9"/>
<polygon points="82.10,357.77 84.30,361.57 79.90,361.57" fill="none" stroke="#F6D746" stroke-width="0.95" opacity="0.9"/>
<polygon points="82.70,373.87 84.90,377.67 80.50,377.67" fill="none" stroke="#F6D746" stroke-width="0.95" opacity="0.9"/>
<polygon points="83.60,385.77 85.80,389.57 81.40,389.57" fill="none" stroke="#F6D746" stroke-width="0.95" opacity="0.9"/>
<polygon points="75.70,392.87 77.90,396.67 73.50,396.67" fill="none" stroke="#F6D746" stroke-width="0.95" opacity="0.9"/>
<polygon points="79.00,394.67 81.20,398.47 76.80,398.47" fill="none" stroke="#F6D746" stroke-width="0.95" opacity="0.9"/>
<polygon points="83.50,389.67 85.70,393.47 81.30,393.47" fill="none" stroke="#F6D746" stroke-width="0.95" opacity="0.9"/>
<polygon points="82.50,393.47 84.70,397.27 80.30,397.27" fill="none" stroke="#F6D746" stroke-width="0.95" opacity="0.9"/>
<polygon points="83.00,397.47 85.20,401.27 80.80,401.27" fill="none" stroke="#F6D746" stroke-width="0.95" opacity="0.9"/>
<polygon points="84.00,401.47 86.20,405.27 81.80,405.27" fill="none" stroke="#F6D746" stroke-width="0.95" opacity="0.9"/>
<polygon points="81.50,403.77 83.70,407.57 79.30,407.57" fill="none" stroke="#F6D746" stroke-width="0.95" opacity="0.9"/>
<polygon points="78.80,405.67 81.00,409.47 76.60,409.47" fill="none" stroke="#F6D746" stroke-width="0.95" opacity="0.9"/>
<polygon points="83.00,406.47 85.20,410.27 80.80,410.27" fill="none" stroke="#F6D746" stroke-width="0.95" opacity="0.9"/>
<polygon points="85.00,404.97 87.20,408.77 82.80,408.77" fill="none" stroke="#F6D746" stroke-width="0.95" opacity="0.9"/>
<polygon points="102.30,403.17 104.50,406.97 100.10,406.97" fill="none" stroke="#F6D746" stroke-width="0.95" opacity="0.9"/>
<rect x="80.80" y="363.00" width="3.2" height="3.2" fill="none" stroke="#A82E5E" stroke-width="0.9" opacity="0.95"/>
<rect x="81.50" y="369.80" width="3.2" height="3.2" fill="none" stroke="#A82E5E" stroke-width="0.9" opacity="0.95"/>
<rect x="81.50" y="369.80" width="3.2" height="3.2" fill="none" stroke="#A82E5E" stroke-width="0.9" opacity="0.95"/>
<rect x="80.90" y="371.90" width="3.2" height="3.2" fill="none" stroke="#A82E5E" stroke-width="0.9" opacity="0.95"/>
<rect x="80.40" y="378.40" width="3.2" height="3.2" fill="none" stroke="#A82E5E" stroke-width="0.9" opacity="0.95"/>
<rect x="83.40" y="379.40" width="3.2" height="3.2" fill="none" stroke="#A82E5E" stroke-width="0.9" opacity="0.95"/>
<rect x="81.90" y="381.90" width="3.2" height="3.2" fill="none" stroke="#A82E5E" stroke-width="0.9" opacity="0.95"/>
<rect x="81.90" y="376.90" width="3.2" height="3.2" fill="none" stroke="#A82E5E" stroke-width="0.9" opacity="0.95"/>
<rect x="76.50" y="385.40" width="3.2" height="3.2" fill="none" stroke="#A82E5E" stroke-width="0.9" opacity="0.95"/>
<rect x="86.40" y="385.40" width="3.2" height="3.2" fill="none" stroke="#A82E5E" stroke-width="0.9" opacity="0.95"/>
<rect x="83.90" y="389.40" width="3.2" height="3.2" fill="none" stroke="#A82E5E" stroke-width="0.9" opacity="0.95"/>
<rect x="84.40" y="396.40" width="3.2" height="3.2" fill="none" stroke="#A82E5E" stroke-width="0.9" opacity="0.95"/>
<rect x="86.40" y="398.40" width="3.2" height="3.2" fill="none" stroke="#A82E5E" stroke-width="0.9" opacity="0.95"/>
<rect x="90.60" y="398.30" width="3.2" height="3.2" fill="none" stroke="#A82E5E" stroke-width="0.9" opacity="0.95"/>
<rect x="87.90" y="403.00" width="3.2" height="3.2" fill="none" stroke="#A82E5E" stroke-width="0.9" opacity="0.95"/>
<rect x="84.90" y="406.60" width="3.2" height="3.2" fill="none" stroke="#A82E5E" stroke-width="0.9" opacity="0.95"/>
<rect x="82.90" y="407.40" width="3.2" height="3.2" fill="none" stroke="#A82E5E" stroke-width="0.9" opacity="0.95"/>
<rect x="86.40" y="407.90" width="3.2" height="3.2" fill="none" stroke="#A82E5E" stroke-width="0.9" opacity="0.95"/>
<rect x="84.90" y="403.40" width="3.2" height="3.2" fill="none" stroke="#A82E5E" stroke-width="0.9" opacity="0.95"/>
<rect x="83.20" y="383.90" width="3.2" height="3.2" fill="none" stroke="#A82E5E" stroke-width="0.9" opacity="0.95"/>
<rect x="79.90" y="382.40" width="3.2" height="3.2" fill="none" stroke="#A82E5E" stroke-width="0.9" opacity="0.95"/>
<polygon points="82.00,396.07 84.20,399.87 79.80,399.87" fill="none" stroke="#F6D746" stroke-width="0.95" opacity="0.9"/>
<polygon points="83.60,399.47 85.80,403.27 81.40,403.27" fill="none" stroke="#F6D746" stroke-width="0.95" opacity="0.9"/>
<polygon points="82.00,401.67 84.20,405.47 79.80,405.47" fill="none" stroke="#F6D746" stroke-width="0.95" opacity="0.9"/>
<polygon points="84.20,394.07 86.40,397.87 82.00,397.87" fill="none" stroke="#F6D746" stroke-width="0.95" opacity="0.9"/>
<polygon points="80.50,397.97 82.70,401.77 78.30,401.77" fill="none" stroke="#F6D746" stroke-width="0.95" opacity="0.9"/>
<polygon points="84.50,407.47 86.70,411.27 82.30,411.27" fill="none" stroke="#F6D746" stroke-width="0.95" opacity="0.9"/>
<rect x="86.00" y="390.60" width="3.2" height="3.2" fill="none" stroke="#A82E5E" stroke-width="0.9" opacity="0.95"/>
<rect x="85.60" y="400.60" width="3.2" height="3.2" fill="none" stroke="#A82E5E" stroke-width="0.9" opacity="0.95"/>
<rect x="84.00" y="404.70" width="3.2" height="3.2" fill="none" stroke="#A82E5E" stroke-width="0.9" opacity="0.95"/>
<rect x="87.90" y="405.90" width="3.2" height="3.2" fill="none" stroke="#A82E5E" stroke-width="0.9" opacity="0.95"/>
<rect x="84.90" y="403.40" width="3.2" height="3.2" fill="none" stroke="#A82E5E" stroke-width="0.9" opacity="0.95"/>
<rect x="86.40" y="407.90" width="3.2" height="3.2" fill="none" stroke="#A82E5E" stroke-width="0.9" opacity="0.95"/>
<rect x="84.40" y="396.40" width="3.2" height="3.2" fill="none" stroke="#A82E5E" stroke-width="0.9" opacity="0.95"/>
<polygon points="83.50,376.97 85.70,380.77 81.30,380.77" fill="none" stroke="#F6D746" stroke-width="0.95" opacity="0.9"/>
<polygon points="82.50,380.67 84.70,384.47 80.30,384.47" fill="none" stroke="#F6D746" stroke-width="0.95" opacity="0.9"/>
<polygon points="84.50,383.47 86.70,387.27 82.30,387.27" fill="none" stroke="#F6D746" stroke-width="0.95" opacity="0.9"/>
<polygon points="81.50,368.97 83.70,372.77 79.30,372.77" fill="none" stroke="#F6D746" stroke-width="0.95" opacity="0.9"/>
<polygon points="84.00,370.47 86.20,374.27 81.80,374.27" fill="none" stroke="#F6D746" stroke-width="0.95" opacity="0.9"/>
<path d="M79.30,373.60L82.50,376.80M79.30,376.80L82.50,373.60" stroke="#000004" stroke-width="0.85" opacity="0.9"/>
<path d="M82.60,373.80L85.80,377.00M82.60,377.00L85.80,373.80" stroke="#000004" stroke-width="0.85" opacity="0.9"/>
<path d="M85.10,381.00L88.30,384.20M85.10,384.20L88.30,381.00" stroke="#000004" stroke-width="0.85" opacity="0.9"/>
<path d="M81.40,379.40L84.60,382.60M81.40,382.60L84.60,379.40" stroke="#000004" stroke-width="0.85" opacity="0.9"/>
<path d="M82.40,386.70L85.60,389.90M82.40,389.90L85.60,386.70" stroke="#000004" stroke-width="0.85" opacity="0.9"/>
<path d="M77.40,390.20L80.60,393.40M77.40,393.40L80.60,390.20" stroke="#000004" stroke-width="0.85" opacity="0.9"/>
<path d="M79.40,391.20L82.60,394.40M79.40,394.40L82.60,391.20" stroke="#000004" stroke-width="0.85" opacity="0.9"/>
<path d="M84.40,392.40L87.60,395.60M84.40,395.60L87.60,392.40" stroke="#000004" stroke-width="0.85" opacity="0.9"/>
<path d="M86.40,393.40L89.60,396.60M86.40,396.60L89.60,393.40" stroke="#000004" stroke-width="0.85" opacity="0.9"/>
<path d="M88.80,394.60L92.00,397.80M88.80,397.80L92.00,394.60" stroke="#000004" stroke-width="0.85" opacity="0.9"/>
<path d="M84.90,400.40L88.10,403.60M84.90,403.60L88.10,400.40" stroke="#000004" stroke-width="0.85" opacity="0.9"/>
<path d="M86.90,401.90L90.10,405.10M86.90,405.10L90.10,401.90" stroke="#000004" stroke-width="0.85" opacity="0.9"/>
<path d="M89.40,404.60L92.60,407.80M89.40,407.80L92.60,404.60" stroke="#000004" stroke-width="0.85" opacity="0.9"/>
<path d="M199.50,406.50L202.70,409.70M199.50,409.70L202.70,406.50" stroke="#000004" stroke-width="0.85" opacity="0.9"/>
<path d="M258.40,406.30L261.60,409.50M258.40,409.50L261.60,406.30" stroke="#000004" stroke-width="0.85" opacity="0.9"/>
<path d="M275.20,406.20L278.40,409.40M275.20,409.40L278.40,406.20" stroke="#000004" stroke-width="0.85" opacity="0.9"/>
<path d="M199.50,406.50L202.70,409.70M199.50,409.70L202.70,406.50" stroke="#000004" stroke-width="0.85" opacity="0.9"/>
<path d="M258.40,406.30L261.60,409.50M258.40,409.50L261.60,406.30" stroke="#000004" stroke-width="0.85" opacity="0.9"/>
<path d="M275.20,406.20L278.40,409.40M275.20,409.40L278.40,406.20" stroke="#000004" stroke-width="0.85" opacity="0.9"/>
<polygon points="234.30,372.47 236.50,376.27 232.10,376.27" fill="none" stroke="#F6D746" stroke-width="0.95" opacity="0.9"/>
<polygon points="234.50,377.67 236.70,381.47 232.30,381.47" fill="none" stroke="#F6D746" stroke-width="0.95" opacity="0.9"/>
<polygon points="229.50,381.47 231.70,385.27 227.30,385.27" fill="none" stroke="#F6D746" stroke-width="0.95" opacity="0.9"/>
<polygon points="224.50,383.27 226.70,387.07 222.30,387.07" fill="none" stroke="#F6D746" stroke-width="0.95" opacity="0.9"/>
<polygon points="230.00,383.47 232.20,387.27 227.80,387.27" fill="none" stroke="#F6D746" stroke-width="0.95" opacity="0.9"/>
<polygon points="236.60,383.47 238.80,387.27 234.40,387.27" fill="none" stroke="#F6D746" stroke-width="0.95" opacity="0.9"/>
<polygon points="240.00,383.97 242.20,387.77 237.80,387.77" fill="none" stroke="#F6D746" stroke-width="0.95" opacity="0.9"/>
<polygon points="238.50,386.97 240.70,390.77 236.30,390.77" fill="none" stroke="#F6D746" stroke-width="0.95" opacity="0.9"/>
<polygon points="239.50,389.97 241.70,393.77 237.30,393.77" fill="none" stroke="#F6D746" stroke-width="0.95" opacity="0.9"/>
<polygon points="240.00,380.97 242.20,384.77 237.80,384.77" fill="none" stroke="#F6D746" stroke-width="0.95" opacity="0.9"/>
<polygon points="237.50,381.47 239.70,385.27 235.30,385.27" fill="none" stroke="#F6D746" stroke-width="0.95" opacity="0.9"/>
<rect x="225.40" y="395.00" width="3.2" height="3.2" fill="none" stroke="#A82E5E" stroke-width="0.9" opacity="0.95"/>
<rect x="228.90" y="394.70" width="3.2" height="3.2" fill="none" stroke="#A82E5E" stroke-width="0.9" opacity="0.95"/>
<rect x="231.90" y="394.90" width="3.2" height="3.2" fill="none" stroke="#A82E5E" stroke-width="0.9" opacity="0.95"/>
<rect x="235.90" y="395.20" width="3.2" height="3.2" fill="none" stroke="#A82E5E" stroke-width="0.9" opacity="0.95"/>
<rect x="239.20" y="394.40" width="3.2" height="3.2" fill="none" stroke="#A82E5E" stroke-width="0.9" opacity="0.95"/>
<rect x="241.60" y="394.60" width="3.2" height="3.2" fill="none" stroke="#A82E5E" stroke-width="0.9" opacity="0.95"/>
<rect x="222.00" y="398.00" width="3.2" height="3.2" fill="none" stroke="#A82E5E" stroke-width="0.9" opacity="0.95"/>
<rect x="226.90" y="399.40" width="3.2" height="3.2" fill="none" stroke="#A82E5E" stroke-width="0.9" opacity="0.95"/>
<rect x="230.90" y="400.40" width="3.2" height="3.2" fill="none" stroke="#A82E5E" stroke-width="0.9" opacity="0.95"/>
<rect x="244.90" y="398.40" width="3.2" height="3.2" fill="none" stroke="#A82E5E" stroke-width="0.9" opacity="0.95"/>
<rect x="246.10" y="400.60" width="3.2" height="3.2" fill="none" stroke="#A82E5E" stroke-width="0.9" opacity="0.95"/>
<rect x="218.30" y="404.90" width="3.2" height="3.2" fill="none" stroke="#A82E5E" stroke-width="0.9" opacity="0.95"/>
<rect x="219.90" y="403.90" width="3.2" height="3.2" fill="none" stroke="#A82E5E" stroke-width="0.9" opacity="0.95"/>
<rect x="227.40" y="405.40" width="3.2" height="3.2" fill="none" stroke="#A82E5E" stroke-width="0.9" opacity="0.95"/>
<rect x="230.40" y="405.90" width="3.2" height="3.2" fill="none" stroke="#A82E5E" stroke-width="0.9" opacity="0.95"/>
<rect x="242.40" y="405.90" width="3.2" height="3.2" fill="none" stroke="#A82E5E" stroke-width="0.9" opacity="0.95"/>
<rect x="245.40" y="405.40" width="3.2" height="3.2" fill="none" stroke="#A82E5E" stroke-width="0.9" opacity="0.95"/>
<rect x="247.40" y="404.40" width="3.2" height="3.2" fill="none" stroke="#A82E5E" stroke-width="0.9" opacity="0.95"/>
<rect x="228.40" y="402.90" width="3.2" height="3.2" fill="none" stroke="#A82E5E" stroke-width="0.9" opacity="0.95"/>
<rect x="243.40" y="402.90" width="3.2" height="3.2" fill="none" stroke="#A82E5E" stroke-width="0.9" opacity="0.95"/>
<rect x="227.90" y="397.40" width="3.2" height="3.2" fill="none" stroke="#A82E5E" stroke-width="0.9" opacity="0.95"/>
<rect x="226.90" y="399.40" width="3.2" height="3.2" fill="none" stroke="#A82E5E" stroke-width="0.9" opacity="0.95"/>
<rect x="227.40" y="405.40" width="3.2" height="3.2" fill="none" stroke="#A82E5E" stroke-width="0.9" opacity="0.95"/>
<rect x="228.40" y="402.90" width="3.2" height="3.2" fill="none" stroke="#A82E5E" stroke-width="0.9" opacity="0.95"/>
<rect x="230.40" y="405.90" width="3.2" height="3.2" fill="none" stroke="#A82E5E" stroke-width="0.9" opacity="0.95"/>
<rect x="245.40" y="405.40" width="3.2" height="3.2" fill="none" stroke="#A82E5E" stroke-width="0.9" opacity="0.95"/>
<rect x="244.90" y="398.40" width="3.2" height="3.2" fill="none" stroke="#A82E5E" stroke-width="0.9" opacity="0.95"/>
<rect x="231.90" y="394.90" width="3.2" height="3.2" fill="none" stroke="#A82E5E" stroke-width="0.9" opacity="0.95"/>
<rect x="235.90" y="395.20" width="3.2" height="3.2" fill="none" stroke="#A82E5E" stroke-width="0.9" opacity="0.95"/>
<polygon points="236.00,395.47 238.20,399.27 233.80,399.27" fill="none" stroke="#F6D746" stroke-width="0.95" opacity="0.9"/>
<polygon points="240.00,396.47 242.20,400.27 237.80,400.27" fill="none" stroke="#F6D746" stroke-width="0.95" opacity="0.9"/>
<polygon points="235.00,401.47 237.20,405.27 232.80,405.27" fill="none" stroke="#F6D746" stroke-width="0.95" opacity="0.9"/>
<polygon points="242.00,402.47 244.20,406.27 239.80,406.27" fill="none" stroke="#F6D746" stroke-width="0.95" opacity="0.9"/>
<polygon points="238.50,405.47 240.70,409.27 236.30,409.27" fill="none" stroke="#F6D746" stroke-width="0.95" opacity="0.9"/>
<polygon points="234.00,405.97 236.20,409.77 231.80,409.77" fill="none" stroke="#F6D746" stroke-width="0.95" opacity="0.9"/>
<polygon points="243.50,405.97 245.70,409.77 241.30,409.77" fill="none" stroke="#F6D746" stroke-width="0.95" opacity="0.9"/>
<polygon points="239.50,384.97 241.70,388.77 237.30,388.77" fill="none" stroke="#F6D746" stroke-width="0.95" opacity="0.9"/>
<polygon points="241.00,387.47 243.20,391.27 238.80,391.27" fill="none" stroke="#F6D746" stroke-width="0.95" opacity="0.9"/>
<polygon points="237.50,388.97 239.70,392.77 235.30,392.77" fill="none" stroke="#F6D746" stroke-width="0.95" opacity="0.9"/>
<polygon points="240.50,391.97 242.70,395.77 238.30,395.77" fill="none" stroke="#F6D746" stroke-width="0.95" opacity="0.9"/>
<path d="M222.00,403.90L225.20,407.10M222.00,407.10L225.20,403.90" stroke="#000004" stroke-width="0.85" opacity="0.9"/>
<path d="M226.40,398.00L229.60,401.20M226.40,401.20L229.60,398.00" stroke="#000004" stroke-width="0.85" opacity="0.9"/>
<path d="M238.40,395.60L241.60,398.80M238.40,398.80L241.60,395.60" stroke="#000004" stroke-width="0.85" opacity="0.9"/>
<path d="M232.90,402.40L236.10,405.60M232.90,405.60L236.10,402.40" stroke="#000004" stroke-width="0.85" opacity="0.9"/>
<path d="M241.40,399.40L244.60,402.60M241.40,402.60L244.60,399.40" stroke="#000004" stroke-width="0.85" opacity="0.9"/>
<path d="M234.40,405.90L237.60,409.10M234.40,409.10L237.60,405.90" stroke="#000004" stroke-width="0.85" opacity="0.9"/>
<path d="M224.40,400.40L227.60,403.60M224.40,403.60L227.60,400.40" stroke="#000004" stroke-width="0.85" opacity="0.9"/>
<polygon points="387.50,287.07 389.70,290.87 385.30,290.87" fill="none" stroke="#F6D746" stroke-width="0.95" opacity="0.9"/>
<polygon points="390.30,304.87 392.50,308.67 388.10,308.67" fill="none" stroke="#F6D746" stroke-width="0.95" opacity="0.9"/>
<polygon points="390.30,317.17 392.50,320.97 388.10,320.97" fill="none" stroke="#F6D746" stroke-width="0.95" opacity="0.9"/>
<polygon points="390.30,317.97 392.50,321.77 388.10,321.77" fill="none" stroke="#F6D746" stroke-width="0.95" opacity="0.9"/>
<polygon points="390.10,329.37 392.30,333.17 387.90,333.17" fill="none" stroke="#F6D746" stroke-width="0.95" opacity="0.9"/>
<polygon points="392.50,332.77 394.70,336.57 390.30,336.57" fill="none" stroke="#F6D746" stroke-width="0.95" opacity="0.9"/>
<polygon points="389.90,336.97 392.10,340.77 387.70,340.77" fill="none" stroke="#F6D746" stroke-width="0.95" opacity="0.9"/>
<polygon points="393.50,338.07 395.70,341.87 391.30,341.87" fill="none" stroke="#F6D746" stroke-width="0.95" opacity="0.9"/>
<polygon points="390.10,340.87 392.30,344.67 387.90,344.67" fill="none" stroke="#F6D746" stroke-width="0.95" opacity="0.9"/>
<polygon points="394.00,342.47 396.20,346.27 391.80,346.27" fill="none" stroke="#F6D746" stroke-width="0.95" opacity="0.9"/>
<polygon points="390.60,344.57 392.80,348.37 388.40,348.37" fill="none" stroke="#F6D746" stroke-width="0.95" opacity="0.9"/>
<polygon points="394.00,346.47 396.20,350.27 391.80,350.27" fill="none" stroke="#F6D746" stroke-width="0.95" opacity="0.9"/>
<polygon points="391.70,349.07 393.90,352.87 389.50,352.87" fill="none" stroke="#F6D746" stroke-width="0.95" opacity="0.9"/>
<polygon points="394.70,355.37 396.90,359.17 392.50,359.17" fill="none" stroke="#F6D746" stroke-width="0.95" opacity="0.9"/>
<polygon points="394.00,359.47 396.20,363.27 391.80,363.27" fill="none" stroke="#F6D746" stroke-width="0.95" opacity="0.9"/>
<polygon points="394.50,363.47 396.70,367.27 392.30,367.27" fill="none" stroke="#F6D746" stroke-width="0.95" opacity="0.9"/>
<polygon points="396.60,364.67 398.80,368.47 394.40,368.47" fill="none" stroke="#F6D746" stroke-width="0.95" opacity="0.9"/>
<polygon points="395.00,369.07 397.20,372.87 392.80,372.87" fill="none" stroke="#F6D746" stroke-width="0.95" opacity="0.9"/>
<polygon points="393.50,372.47 395.70,376.27 391.30,376.27" fill="none" stroke="#F6D746" stroke-width="0.95" opacity="0.9"/>
<polygon points="392.50,375.97 394.70,379.77 390.30,379.77" fill="none" stroke="#F6D746" stroke-width="0.95" opacity="0.9"/>
<polygon points="394.00,378.97 396.20,382.77 391.80,382.77" fill="none" stroke="#F6D746" stroke-width="0.95" opacity="0.9"/>
<polygon points="409.60,404.77 411.80,408.57 407.40,408.57" fill="none" stroke="#F6D746" stroke-width="0.95" opacity="0.9"/>
<rect x="387.90" y="369.70" width="3.2" height="3.2" fill="none" stroke="#A82E5E" stroke-width="0.9" opacity="0.95"/>
<rect x="384.20" y="374.50" width="3.2" height="3.2" fill="none" stroke="#A82E5E" stroke-width="0.9" opacity="0.95"/>
<rect x="387.90" y="374.90" width="3.2" height="3.2" fill="none" stroke="#A82E5E" stroke-width="0.9" opacity="0.95"/>
<rect x="390.00" y="378.00" width="3.2" height="3.2" fill="none" stroke="#A82E5E" stroke-width="0.9" opacity="0.95"/>
<rect x="386.00" y="383.20" width="3.2" height="3.2" fill="none" stroke="#A82E5E" stroke-width="0.9" opacity="0.95"/>
<rect x="402.40" y="393.20" width="3.2" height="3.2" fill="none" stroke="#A82E5E" stroke-width="0.9" opacity="0.95"/>
<rect x="408.40" y="396.40" width="3.2" height="3.2" fill="none" stroke="#A82E5E" stroke-width="0.9" opacity="0.95"/>
<rect x="408.80" y="396.40" width="3.2" height="3.2" fill="none" stroke="#A82E5E" stroke-width="0.9" opacity="0.95"/>
<rect x="380.40" y="404.00" width="3.2" height="3.2" fill="none" stroke="#A82E5E" stroke-width="0.9" opacity="0.95"/>
<rect x="384.90" y="403.40" width="3.2" height="3.2" fill="none" stroke="#A82E5E" stroke-width="0.9" opacity="0.95"/>
<rect x="399.40" y="403.90" width="3.2" height="3.2" fill="none" stroke="#A82E5E" stroke-width="0.9" opacity="0.95"/>
<rect x="413.00" y="404.30" width="3.2" height="3.2" fill="none" stroke="#A82E5E" stroke-width="0.9" opacity="0.95"/>
<rect x="415.40" y="406.60" width="3.2" height="3.2" fill="none" stroke="#A82E5E" stroke-width="0.9" opacity="0.95"/>
<rect x="415.60" y="406.40" width="3.2" height="3.2" fill="none" stroke="#A82E5E" stroke-width="0.9" opacity="0.95"/>
<rect x="452.70" y="404.40" width="3.2" height="3.2" fill="none" stroke="#A82E5E" stroke-width="0.9" opacity="0.95"/>
<rect x="473.70" y="406.10" width="3.2" height="3.2" fill="none" stroke="#A82E5E" stroke-width="0.9" opacity="0.95"/>
<path d="M384.40,391.60L387.60,394.80M384.40,394.80L387.60,391.60" stroke="#000004" stroke-width="0.85" opacity="0.9"/>
<path d="M398.80,389.60L402.00,392.80M398.80,392.80L402.00,389.60" stroke="#000004" stroke-width="0.85" opacity="0.9"/>
<path d="M404.80,405.20L408.00,408.40M404.80,408.40L408.00,405.20" stroke="#000004" stroke-width="0.85" opacity="0.9"/>
<path d="M380.40,403.80L383.60,407.00M380.40,407.00L383.60,403.80" stroke="#000004" stroke-width="0.85" opacity="0.9"/>
<path d="M387.90,384.40L391.10,387.60M387.90,387.60L391.10,384.40" stroke="#000004" stroke-width="0.85" opacity="0.9"/>
<path d="M396.40,396.40L399.60,399.60M396.40,399.60L399.60,396.40" stroke="#000004" stroke-width="0.85" opacity="0.9"/>
<path d="M413.00,404.30L416.20,407.50M413.00,407.50L416.20,404.30" stroke="#000004" stroke-width="0.85" opacity="0.9"/>
<path d="M434.20,406.40L437.40,409.60M434.20,409.60L437.40,406.40" stroke="#000004" stroke-width="0.85" opacity="0.9"/>
<path d="M444.20,403.20L447.40,406.40M444.20,406.40L447.40,403.20" stroke="#000004" stroke-width="0.85" opacity="0.9"/>
<path d="M390.40,375.90L393.60,379.10M390.40,379.10L393.60,375.90" stroke="#000004" stroke-width="0.85" opacity="0.9"/>
<path d="M386.90,396.40L390.10,399.60M386.90,399.60L390.10,396.40" stroke="#000004" stroke-width="0.85" opacity="0.9"/>
<polygon points="86.00,529.67 88.20,533.47 83.80,533.47" fill="none" stroke="#F6D746" stroke-width="0.95" opacity="0.9"/>
<polygon points="86.00,533.07 88.20,536.87 83.80,536.87" fill="none" stroke="#F6D746" stroke-width="0.95" opacity="0.9"/>
<polygon points="86.20,535.87 88.40,539.67 84.00,539.67" fill="none" stroke="#F6D746" stroke-width="0.95" opacity="0.9"/>
<polygon points="86.50,538.47 88.70,542.27 84.30,542.27" fill="none" stroke="#F6D746" stroke-width="0.95" opacity="0.9"/>
<polygon points="85.60,539.07 87.80,542.87 83.40,542.87" fill="none" stroke="#F6D746" stroke-width="0.95" opacity="0.9"/>
<rect x="80.30" y="534.70" width="3.2" height="3.2" fill="none" stroke="#A82E5E" stroke-width="0.9" opacity="0.95"/>
<rect x="81.00" y="538.00" width="3.2" height="3.2" fill="none" stroke="#A82E5E" stroke-width="0.9" opacity="0.95"/>
<rect x="87.00" y="538.40" width="3.2" height="3.2" fill="none" stroke="#A82E5E" stroke-width="0.9" opacity="0.95"/>
<rect x="81.90" y="539.90" width="3.2" height="3.2" fill="none" stroke="#A82E5E" stroke-width="0.9" opacity="0.95"/>
<path d="M79.80,540.00L83.00,543.20M79.80,543.20L83.00,540.00" stroke="#000004" stroke-width="0.85" opacity="0.9"/>
<path d="M83.40,539.90L86.60,543.10M83.40,543.10L86.60,539.90" stroke="#000004" stroke-width="0.85" opacity="0.9"/>
<path d="M81.40,540.20L84.60,543.40M81.40,543.40L84.60,540.20" stroke="#000004" stroke-width="0.85" opacity="0.9"/>
<rect x="202.40" y="539.00" width="3.2" height="3.2" fill="none" stroke="#A82E5E" stroke-width="0.9" opacity="0.95"/>
<rect x="205.40" y="539.00" width="3.2" height="3.2" fill="none" stroke="#A82E5E" stroke-width="0.9" opacity="0.95"/>
<rect x="208.40" y="539.00" width="3.2" height="3.2" fill="none" stroke="#A82E5E" stroke-width="0.9" opacity="0.95"/>
<rect x="211.40" y="539.00" width="3.2" height="3.2" fill="none" stroke="#A82E5E" stroke-width="0.9" opacity="0.95"/>
<rect x="214.40" y="539.00" width="3.2" height="3.2" fill="none" stroke="#A82E5E" stroke-width="0.9" opacity="0.95"/>
<rect x="217.40" y="539.00" width="3.2" height="3.2" fill="none" stroke="#A82E5E" stroke-width="0.9" opacity="0.95"/>
<rect x="220.40" y="539.00" width="3.2" height="3.2" fill="none" stroke="#A82E5E" stroke-width="0.9" opacity="0.95"/>
<rect x="223.40" y="539.00" width="3.2" height="3.2" fill="none" stroke="#A82E5E" stroke-width="0.9" opacity="0.95"/>
<rect x="226.40" y="539.00" width="3.2" height="3.2" fill="none" stroke="#A82E5E" stroke-width="0.9" opacity="0.95"/>
<rect x="229.40" y="539.00" width="3.2" height="3.2" fill="none" stroke="#A82E5E" stroke-width="0.9" opacity="0.95"/>
<rect x="232.40" y="539.00" width="3.2" height="3.2" fill="none" stroke="#A82E5E" stroke-width="0.9" opacity="0.95"/>
<rect x="242.00" y="539.00" width="3.2" height="3.2" fill="none" stroke="#A82E5E" stroke-width="0.9" opacity="0.95"/>
<rect x="245.40" y="539.00" width="3.2" height="3.2" fill="none" stroke="#A82E5E" stroke-width="0.9" opacity="0.95"/>
<rect x="211.40" y="539.00" width="3.2" height="3.2" fill="none" stroke="#A82E5E" stroke-width="0.9" opacity="0.95"/>
<rect x="214.40" y="539.00" width="3.2" height="3.2" fill="none" stroke="#A82E5E" stroke-width="0.9" opacity="0.95"/>
<rect x="217.40" y="539.00" width="3.2" height="3.2" fill="none" stroke="#A82E5E" stroke-width="0.9" opacity="0.95"/>
<rect x="220.40" y="539.00" width="3.2" height="3.2" fill="none" stroke="#A82E5E" stroke-width="0.9" opacity="0.95"/>
<rect x="223.40" y="539.00" width="3.2" height="3.2" fill="none" stroke="#A82E5E" stroke-width="0.9" opacity="0.95"/>
<rect x="226.40" y="539.00" width="3.2" height="3.2" fill="none" stroke="#A82E5E" stroke-width="0.9" opacity="0.95"/>
<rect x="229.40" y="539.00" width="3.2" height="3.2" fill="none" stroke="#A82E5E" stroke-width="0.9" opacity="0.95"/>
<rect x="221.90" y="533.60" width="3.2" height="3.2" fill="none" stroke="#A82E5E" stroke-width="0.9" opacity="0.95"/>
<rect x="224.90" y="533.60" width="3.2" height="3.2" fill="none" stroke="#A82E5E" stroke-width="0.9" opacity="0.95"/>
<rect x="227.90" y="533.60" width="3.2" height="3.2" fill="none" stroke="#A82E5E" stroke-width="0.9" opacity="0.95"/>
<rect x="230.90" y="533.60" width="3.2" height="3.2" fill="none" stroke="#A82E5E" stroke-width="0.9" opacity="0.95"/>
<rect x="233.90" y="533.60" width="3.2" height="3.2" fill="none" stroke="#A82E5E" stroke-width="0.9" opacity="0.95"/>
<rect x="221.90" y="533.60" width="3.2" height="3.2" fill="none" stroke="#A82E5E" stroke-width="0.9" opacity="0.95"/>
<rect x="224.90" y="533.60" width="3.2" height="3.2" fill="none" stroke="#A82E5E" stroke-width="0.9" opacity="0.95"/>
<rect x="227.90" y="533.60" width="3.2" height="3.2" fill="none" stroke="#A82E5E" stroke-width="0.9" opacity="0.95"/>
<rect x="230.90" y="533.60" width="3.2" height="3.2" fill="none" stroke="#A82E5E" stroke-width="0.9" opacity="0.95"/>
<rect x="233.00" y="531.20" width="3.2" height="3.2" fill="none" stroke="#A82E5E" stroke-width="0.9" opacity="0.95"/>
<rect x="256.40" y="539.20" width="3.2" height="3.2" fill="none" stroke="#A82E5E" stroke-width="0.9" opacity="0.95"/>
<rect x="225.40" y="535.90" width="3.2" height="3.2" fill="none" stroke="#A82E5E" stroke-width="0.9" opacity="0.95"/>
<rect x="230.40" y="536.90" width="3.2" height="3.2" fill="none" stroke="#A82E5E" stroke-width="0.9" opacity="0.95"/>
<polygon points="200.90,534.47 203.10,538.27 198.70,538.27" fill="none" stroke="#F6D746" stroke-width="0.95" opacity="0.9"/>
<polygon points="203.50,535.47 205.70,539.27 201.30,539.27" fill="none" stroke="#F6D746" stroke-width="0.95" opacity="0.9"/>
<polygon points="207.60,534.47 209.80,538.27 205.40,538.27" fill="none" stroke="#F6D746" stroke-width="0.95" opacity="0.9"/>
<polygon points="211.80,535.67 214.00,539.47 209.60,539.47" fill="none" stroke="#F6D746" stroke-width="0.95" opacity="0.9"/>
<polygon points="222.30,536.07 224.50,539.87 220.10,539.87" fill="none" stroke="#F6D746" stroke-width="0.95" opacity="0.9"/>
<polygon points="229.00,536.47 231.20,540.27 226.80,540.27" fill="none" stroke="#F6D746" stroke-width="0.95" opacity="0.9"/>
<polygon points="233.00,534.67 235.20,538.47 230.80,538.47" fill="none" stroke="#F6D746" stroke-width="0.95" opacity="0.9"/>
<polygon points="226.00,537.47 228.20,541.27 223.80,541.27" fill="none" stroke="#F6D746" stroke-width="0.95" opacity="0.9"/>
<polygon points="236.20,537.47 238.40,541.27 234.00,541.27" fill="none" stroke="#F6D746" stroke-width="0.95" opacity="0.9"/>
<polygon points="235.00,538.77 237.20,542.57 232.80,542.57" fill="none" stroke="#F6D746" stroke-width="0.95" opacity="0.9"/>
<polygon points="209.50,536.47 211.70,540.27 207.30,540.27" fill="none" stroke="#F6D746" stroke-width="0.95" opacity="0.9"/>
<path d="M201.40,539.40L204.60,542.60M201.40,542.60L204.60,539.40" stroke="#000004" stroke-width="0.85" opacity="0.9"/>
<path d="M207.40,539.40L210.60,542.60M207.40,542.60L210.60,539.40" stroke="#000004" stroke-width="0.85" opacity="0.9"/>
<path d="M209.90,539.40L213.10,542.60M209.90,542.60L213.10,539.40" stroke="#000004" stroke-width="0.85" opacity="0.9"/>
<path d="M215.90,537.00L219.10,540.20M215.90,540.20L219.10,537.00" stroke="#000004" stroke-width="0.85" opacity="0.9"/>
<path d="M242.40,536.40L245.60,539.60M242.40,539.60L245.60,536.40" stroke="#000004" stroke-width="0.85" opacity="0.9"/>
<path d="M247.90,539.10L251.10,542.30M247.90,542.30L251.10,539.10" stroke="#000004" stroke-width="0.85" opacity="0.9"/>
<path d="M259.90,536.90L263.10,540.10M259.90,540.10L263.10,536.90" stroke="#000004" stroke-width="0.85" opacity="0.9"/>
<path d="M229.40,534.40L232.60,537.60M229.40,537.60L232.60,534.40" stroke="#000004" stroke-width="0.85" opacity="0.9"/>
<path d="M226.40,535.90L229.60,539.10M226.40,539.10L229.60,535.90" stroke="#000004" stroke-width="0.85" opacity="0.9"/>
<rect x="378.40" y="527.90" width="3.2" height="3.2" fill="none" stroke="#A82E5E" stroke-width="0.9" opacity="0.95"/>
<rect x="381.90" y="526.90" width="3.2" height="3.2" fill="none" stroke="#A82E5E" stroke-width="0.9" opacity="0.95"/>
<rect x="385.40" y="526.40" width="3.2" height="3.2" fill="none" stroke="#A82E5E" stroke-width="0.9" opacity="0.95"/>
<rect x="379.40" y="530.40" width="3.2" height="3.2" fill="none" stroke="#A82E5E" stroke-width="0.9" opacity="0.95"/>
<rect x="384.40" y="529.90" width="3.2" height="3.2" fill="none" stroke="#A82E5E" stroke-width="0.9" opacity="0.95"/>
<rect x="376.90" y="535.90" width="3.2" height="3.2" fill="none" stroke="#A82E5E" stroke-width="0.9" opacity="0.95"/>
<rect x="381.40" y="534.40" width="3.2" height="3.2" fill="none" stroke="#A82E5E" stroke-width="0.9" opacity="0.95"/>
<rect x="385.90" y="533.40" width="3.2" height="3.2" fill="none" stroke="#A82E5E" stroke-width="0.9" opacity="0.95"/>
<rect x="377.40" y="538.90" width="3.2" height="3.2" fill="none" stroke="#A82E5E" stroke-width="0.9" opacity="0.95"/>
<rect x="382.90" y="531.90" width="3.2" height="3.2" fill="none" stroke="#A82E5E" stroke-width="0.9" opacity="0.95"/>
<rect x="387.90" y="529.40" width="3.2" height="3.2" fill="none" stroke="#A82E5E" stroke-width="0.9" opacity="0.95"/>
<rect x="376.90" y="532.40" width="3.2" height="3.2" fill="none" stroke="#A82E5E" stroke-width="0.9" opacity="0.95"/>
<rect x="387.40" y="536.40" width="3.2" height="3.2" fill="none" stroke="#A82E5E" stroke-width="0.9" opacity="0.95"/>
<rect x="378.90" y="525.90" width="3.2" height="3.2" fill="none" stroke="#A82E5E" stroke-width="0.9" opacity="0.95"/>
<rect x="381.40" y="534.40" width="3.2" height="3.2" fill="none" stroke="#A82E5E" stroke-width="0.9" opacity="0.95"/>
<rect x="385.90" y="533.40" width="3.2" height="3.2" fill="none" stroke="#A82E5E" stroke-width="0.9" opacity="0.95"/>
<rect x="382.90" y="531.90" width="3.2" height="3.2" fill="none" stroke="#A82E5E" stroke-width="0.9" opacity="0.95"/>
<rect x="379.40" y="530.40" width="3.2" height="3.2" fill="none" stroke="#A82E5E" stroke-width="0.9" opacity="0.95"/>
<rect x="384.40" y="529.90" width="3.2" height="3.2" fill="none" stroke="#A82E5E" stroke-width="0.9" opacity="0.95"/>
<rect x="381.90" y="526.90" width="3.2" height="3.2" fill="none" stroke="#A82E5E" stroke-width="0.9" opacity="0.95"/>
<rect x="380.40" y="539.90" width="3.2" height="3.2" fill="none" stroke="#A82E5E" stroke-width="0.9" opacity="0.95"/>
<rect x="384.40" y="540.20" width="3.2" height="3.2" fill="none" stroke="#A82E5E" stroke-width="0.9" opacity="0.95"/>
<rect x="387.90" y="539.90" width="3.2" height="3.2" fill="none" stroke="#A82E5E" stroke-width="0.9" opacity="0.95"/>
<polygon points="393.20,502.47 395.40,506.27 391.00,506.27" fill="none" stroke="#F6D746" stroke-width="0.95" opacity="0.9"/>
<polygon points="393.50,527.97 395.70,531.77 391.30,531.77" fill="none" stroke="#F6D746" stroke-width="0.95" opacity="0.9"/>
<polygon points="393.50,530.97 395.70,534.77 391.30,534.77" fill="none" stroke="#F6D746" stroke-width="0.95" opacity="0.9"/>
<polygon points="393.00,533.97 395.20,537.77 390.80,537.77" fill="none" stroke="#F6D746" stroke-width="0.95" opacity="0.9"/>
<polygon points="393.00,536.97 395.20,540.77 390.80,540.77" fill="none" stroke="#F6D746" stroke-width="0.95" opacity="0.9"/>
<polygon points="382.50,537.47 384.70,541.27 380.30,541.27" fill="none" stroke="#F6D746" stroke-width="0.95" opacity="0.9"/>
<polygon points="386.00,537.47 388.20,541.27 383.80,541.27" fill="none" stroke="#F6D746" stroke-width="0.95" opacity="0.9"/>
<polygon points="389.50,537.47 391.70,541.27 387.30,541.27" fill="none" stroke="#F6D746" stroke-width="0.95" opacity="0.9"/>
<polygon points="393.50,538.47 395.70,542.27 391.30,542.27" fill="none" stroke="#F6D746" stroke-width="0.95" opacity="0.9"/>
<polygon points="391.00,535.47 393.20,539.27 388.80,539.27" fill="none" stroke="#F6D746" stroke-width="0.95" opacity="0.9"/>
<polygon points="384.00,538.97 386.20,542.77 381.80,542.77" fill="none" stroke="#F6D746" stroke-width="0.95" opacity="0.9"/>
<polygon points="388.00,538.97 390.20,542.77 385.80,542.77" fill="none" stroke="#F6D746" stroke-width="0.95" opacity="0.9"/>
<polygon points="391.50,538.97 393.70,542.77 389.30,542.77" fill="none" stroke="#F6D746" stroke-width="0.95" opacity="0.9"/>
<polygon points="394.00,526.47 396.20,530.27 391.80,530.27" fill="none" stroke="#F6D746" stroke-width="0.95" opacity="0.9"/>
<polygon points="392.50,532.47 394.70,536.27 390.30,536.27" fill="none" stroke="#F6D746" stroke-width="0.95" opacity="0.9"/>
<path d="M385.30,530.90L388.50,534.10M385.30,534.10L388.50,530.90" stroke="#000004" stroke-width="0.85" opacity="0.9"/>
<path d="M376.90,538.90L380.10,542.10M376.90,542.10L380.10,538.90" stroke="#000004" stroke-width="0.85" opacity="0.9"/>
<path d="M394.90,535.40L398.10,538.60M394.90,538.60L398.10,535.40" stroke="#000004" stroke-width="0.85" opacity="0.9"/>
<path d="M394.40,538.90L397.60,542.10M394.40,542.10L397.60,538.90" stroke="#000004" stroke-width="0.85" opacity="0.9"/>
<path d="M382.40,532.40L385.60,535.60M382.40,535.60L385.60,532.40" stroke="#000004" stroke-width="0.85" opacity="0.9"/>
<line y1="18.00" y2="147.80" x1="86.30" x2="86.30" stroke="#000" stroke-opacity="0.16" stroke-width="0.9"/>
<line y1="18.00" y2="147.80" x1="239.67" x2="239.67" stroke="#000" stroke-opacity="0.16" stroke-width="0.9"/>
<line y1="18.00" y2="147.80" x1="393.48" x2="393.48" stroke="#000" stroke-opacity="0.16" stroke-width="0.9"/>
<line y1="151.07" y2="280.87" x1="86.30" x2="86.30" stroke="#000" stroke-opacity="0.16" stroke-width="0.9"/>
<line y1="151.07" y2="280.87" x1="239.67" x2="239.67" stroke="#000" stroke-opacity="0.16" stroke-width="0.9"/>
<line y1="151.07" y2="280.87" x1="393.48" x2="393.48" stroke="#000" stroke-opacity="0.16" stroke-width="0.9"/>
<line y1="284.13" y2="413.93" x1="86.30" x2="86.30" stroke="#000" stroke-opacity="0.16" stroke-width="0.9"/>
<line y1="284.13" y2="413.93" x1="239.67" x2="239.67" stroke="#000" stroke-opacity="0.16" stroke-width="0.9"/>
<line y1="284.13" y2="413.93" x1="393.48" x2="393.48" stroke="#000" stroke-opacity="0.16" stroke-width="0.9"/>
<line y1="417.20" y2="547.00" x1="86.30" x2="86.30" stroke="#000" stroke-opacity="0.16" stroke-width="0.9"/>
<line y1="417.20" y2="547.00" x1="239.67" x2="239.67" stroke="#000" stroke-opacity="0.16" stroke-width="0.9"/>
<line y1="417.20" y2="547.00" x1="393.48" x2="393.48" stroke="#000" stroke-opacity="0.16" stroke-width="0.9"/>
<rect x="25.00" y="5" width="150.27" height="13" fill="#D9D9D9"/>
<rect x="178.37" y="5" width="150.27" height="13" fill="#D9D9D9"/>
<rect x="331.73" y="5" width="150.27" height="13" fill="#D9D9D9"/>
<rect x="482" y="18.00" width="12.9" height="129.80" fill="#D9D9D9"/>
<rect x="482" y="151.07" width="12.9" height="129.80" fill="#D9D9D9"/>
<rect x="482" y="284.13" width="12.9" height="129.80" fill="#D9D9D9"/>
<rect x="482" y="417.20" width="12.9" height="129.80" fill="#D9D9D9"/>
<line x1="23.2" x2="25" y1="143.40" y2="143.40" stroke="#333" stroke-width="0.6"/>
<line x1="23.2" x2="25" y1="119.22" y2="119.22" stroke="#333" stroke-width="0.6"/>
<line x1="23.2" x2="25" y1="95.04" y2="95.04" stroke="#333" stroke-width="0.6"/>
<line x1="23.2" x2="25" y1="70.86" y2="70.86" stroke="#333" stroke-width="0.6"/>
<line x1="23.2" x2="25" y1="46.68" y2="46.68" stroke="#333" stroke-width="0.6"/>
<line x1="23.2" x2="25" y1="22.50" y2="22.50" stroke="#333" stroke-width="0.6"/>
<line x1="23.2" x2="25" y1="276.47" y2="276.47" stroke="#333" stroke-width="0.6"/>
<line x1="23.2" x2="25" y1="252.29" y2="252.29" stroke="#333" stroke-width="0.6"/>
<line x1="23.2" x2="25" y1="228.11" y2="228.11" stroke="#333" stroke-width="0.6"/>
<line x1="23.2" x2="25" y1="203.93" y2="203.93" stroke="#333" stroke-width="0.6"/>
<line x1="23.2" x2="25" y1="179.75" y2="179.75" stroke="#333" stroke-width="0.6"/>
<line x1="23.2" x2="25" y1="155.57" y2="155.57" stroke="#333" stroke-width="0.6"/>
<line x1="23.2" x2="25" y1="409.53" y2="409.53" stroke="#333" stroke-width="0.6"/>
<line x1="23.2" x2="25" y1="385.35" y2="385.35" stroke="#333" stroke-width="0.6"/>
<line x1="23.2" x2="25" y1="361.17" y2="361.17" stroke="#333" stroke-width="0.6"/>
<line x1="23.2" x2="25" y1="336.99" y2="336.99" stroke="#333" stroke-width="0.6"/>
<line x1="23.2" x2="25" y1="312.81" y2="312.81" stroke="#333" stroke-width="0.6"/>
<line x1="23.2" x2="25" y1="288.63" y2="288.63" stroke="#333" stroke-width="0.6"/>
<line x1="23.2" x2="25" y1="542.60" y2="542.60" stroke="#333" stroke-width="0.6"/>
<line x1="23.2" x2="25" y1="518.42" y2="518.42" stroke="#333" stroke-width="0.6"/>
<line x1="23.2" x2="25" y1="494.24" y2="494.24" stroke="#333" stroke-width="0.6"/>
<line x1="23.2" x2="25" y1="470.06" y2="470.06" stroke="#333" stroke-width="0.6"/>
<line x1="23.2" x2="25" y1="445.88" y2="445.88" stroke="#333" stroke-width="0.6"/>
<line x1="23.2" x2="25" y1="421.70" y2="421.70" stroke="#333" stroke-width="0.6"/>
<line x1="30.50" x2="30.50" y1="547" y2="548.8" stroke="#333" stroke-width="0.6"/>
<line x1="70.10" x2="70.10" y1="547" y2="548.8" stroke="#333" stroke-width="0.6"/>
<line x1="102.40" x2="102.40" y1="547" y2="548.8" stroke="#333" stroke-width="0.6"/>
<line x1="141.30" x2="141.30" y1="547" y2="548.8" stroke="#333" stroke-width="0.6"/>
<line x1="163.40" x2="163.40" y1="547" y2="548.8" stroke="#333" stroke-width="0.6"/>
<line x1="183.87" x2="183.87" y1="547" y2="548.8" stroke="#333" stroke-width="0.6"/>
<line x1="223.47" x2="223.47" y1="547" y2="548.8" stroke="#333" stroke-width="0.6"/>
<line x1="255.77" x2="255.77" y1="547" y2="548.8" stroke="#333" stroke-width="0.6"/>
<line x1="294.67" x2="294.67" y1="547" y2="548.8" stroke="#333" stroke-width="0.6"/>
<line x1="316.77" x2="316.77" y1="547" y2="548.8" stroke="#333" stroke-width="0.6"/>
<line x1="337.68" x2="337.68" y1="547" y2="548.8" stroke="#333" stroke-width="0.6"/>
<line x1="377.28" x2="377.28" y1="547" y2="548.8" stroke="#333" stroke-width="0.6"/>
<line x1="409.58" x2="409.58" y1="547" y2="548.8" stroke="#333" stroke-width="0.6"/>
<line x1="448.48" x2="448.48" y1="547" y2="548.8" stroke="#333" stroke-width="0.6"/>
<line x1="470.58" x2="470.58" y1="547" y2="548.8" stroke="#333" stroke-width="0.6"/>
<rect x="203.2" y="575.6" width="10" height="10" fill="#EBEBEB"/>
<rect x="241.3" y="575.6" width="10" height="10" fill="#EBEBEB"/>
<rect x="274.4" y="575.6" width="10" height="10" fill="#EBEBEB"/>
<path d="M206.5,578.9L209.9,582.3M206.5,582.3L209.9,578.9" stroke="#000004" stroke-width="0.9"/>
<rect x="244.6" y="578.9" width="3.4" height="3.4" fill="none" stroke="#A82E5E" stroke-width="1"/>
<polygon points="279.4,578.3 281.6,582.1 277.2,582.1" fill="none" stroke="#F6D746" stroke-width="1"/>
</svg>
<svg width="500" height="593" viewBox="0 0 500 593" style="position:absolute;left:0;top:0;filter:grayscale(1);text-rendering:geometricPrecision"><text x="100.14" y="14.4" font-family="Liberation Sans, sans-serif" font-size="8" fill="#1A1A1A" stroke="#1A1A1A" stroke-width="0.0" text-anchor="middle">Fall</text>
<text x="253.50" y="14.4" font-family="Liberation Sans, sans-serif" font-size="8" fill="#1A1A1A" stroke="#1A1A1A" stroke-width="0.0" text-anchor="middle">Spring</text>
<text x="406.87" y="14.4" font-family="Liberation Sans, sans-serif" font-size="8" fill="#1A1A1A" stroke="#1A1A1A" stroke-width="0.0" text-anchor="middle">Winter</text>
<text x="0" y="0" transform="translate(485.60,82.90) rotate(90)" font-family="Liberation Sans, sans-serif" font-size="8.2" fill="#1A1A1A" stroke="#1A1A1A" stroke-width="0.0" text-anchor="middle">MtWest</text>
<text x="0" y="0" transform="translate(485.60,215.97) rotate(90)" font-family="Liberation Sans, sans-serif" font-size="8.2" fill="#1A1A1A" stroke="#1A1A1A" stroke-width="0.0" text-anchor="middle">NorthernNA</text>
<text x="0" y="0" transform="translate(485.60,349.03) rotate(90)" font-family="Liberation Sans, sans-serif" font-size="8.2" fill="#1A1A1A" stroke="#1A1A1A" stroke-width="0.0" text-anchor="middle">PacificNW</text>
<text x="0" y="0" transform="translate(485.60,482.10) rotate(90)" font-family="Liberation Sans, sans-serif" font-size="8.2" fill="#1A1A1A" stroke="#1A1A1A" stroke-width="0.0" text-anchor="middle">West Alaska</text>
<text x="22" y="145.95" font-family="Liberation Sans, sans-serif" font-size="7.1" fill="#4D4D4D" stroke="#4D4D4D" stroke-width="0.0" text-anchor="end">0</text>
<text x="22" y="121.77" font-family="Liberation Sans, sans-serif" font-size="7.1" fill="#4D4D4D" stroke="#4D4D4D" stroke-width="0.0" text-anchor="end">5</text>
<text x="22" y="97.59" font-family="Liberation Sans, sans-serif" font-size="7.1" fill="#4D4D4D" stroke="#4D4D4D" stroke-width="0.0" text-anchor="end">10</text>
<text x="22" y="73.41" font-family="Liberation Sans, sans-serif" font-size="7.1" fill="#4D4D4D" stroke="#4D4D4D" stroke-width="0.0" text-anchor="end">15</text>
<text x="22" y="49.23" font-family="Liberation Sans, sans-serif" font-size="7.1" fill="#4D4D4D" stroke="#4D4D4D" stroke-width="0.0" text-anchor="end">20</text>
<text x="22" y="25.05" font-family="Liberation Sans, sans-serif" font-size="7.1" fill="#4D4D4D" stroke="#4D4D4D" stroke-width="0.0" text-anchor="end">25</text>
<text x="22" y="279.02" font-family="Liberation Sans, sans-serif" font-size="7.1" fill="#4D4D4D" stroke="#4D4D4D" stroke-width="0.0" text-anchor="end">0</text>
<text x="22" y="254.84" font-family="Liberation Sans, sans-serif" font-size="7.1" fill="#4D4D4D" stroke="#4D4D4D" stroke-width="0.0" text-anchor="end">5</text>
<text x="22" y="230.66" font-family="Liberation Sans, sans-serif" font-size="7.1" fill="#4D4D4D" stroke="#4D4D4D" stroke-width="0.0" text-anchor="end">10</text>
<text x="22" y="206.48" font-family="Liberation Sans, sans-serif" font-size="7.1" fill="#4D4D4D" stroke="#4D4D4D" stroke-width="0.0" text-anchor="end">15</text>
<text x="22" y="182.30" font-family="Liberation Sans, sans-serif" font-size="7.1" fill="#4D4D4D" stroke="#4D4D4D" stroke-width="0.0" text-anchor="end">20</text>
<text x="22" y="158.12" font-family="Liberation Sans, sans-serif" font-size="7.1" fill="#4D4D4D" stroke="#4D4D4D" stroke-width="0.0" text-anchor="end">25</text>
<text x="22" y="412.08" font-family="Liberation Sans, sans-serif" font-size="7.1" fill="#4D4D4D" stroke="#4D4D4D" stroke-width="0.0" text-anchor="end">0</text>
<text x="22" y="387.90" font-family="Liberation Sans, sans-serif" font-size="7.1" fill="#4D4D4D" stroke="#4D4D4D" stroke-width="0.0" text-anchor="end">5</text>
<text x="22" y="363.72" font-family="Liberation Sans, sans-serif" font-size="7.1" fill="#4D4D4D" stroke="#4D4D4D" stroke-width="0.0" text-anchor="end">10</text>
<text x="22" y="339.54" font-family="Liberation Sans, sans-serif" font-size="7.1" fill="#4D4D4D" stroke="#4D4D4D" stroke-width="0.0" text-anchor="end">15</text>
<text x="22" y="315.36" font-family="Liberation Sans, sans-serif" font-size="7.1" fill="#4D4D4D" stroke="#4D4D4D" stroke-width="0.0" text-anchor="end">20</text>
<text x="22" y="291.18" font-family="Liberation Sans, sans-serif" font-size="7.1" fill="#4D4D4D" stroke="#4D4D4D" stroke-width="0.0" text-anchor="end">25</text>
<text x="22" y="545.15" font-family="Liberation Sans, sans-serif" font-size="7.1" fill="#4D4D4D" stroke="#4D4D4D" stroke-width="0.0" text-anchor="end">0</text>
<text x="22" y="520.97" font-family="Liberation Sans, sans-serif" font-size="7.1" fill="#4D4D4D" stroke="#4D4D4D" stroke-width="0.0" text-anchor="end">5</text>
<text x="22" y="496.79" font-family="Liberation Sans, sans-serif" font-size="7.1" fill="#4D4D4D" stroke="#4D4D4D" stroke-width="0.0" text-anchor="end">10</text>
<text x="22" y="472.61" font-family="Liberation Sans, sans-serif" font-size="7.1" fill="#4D4D4D" stroke="#4D4D4D" stroke-width="0.0" text-anchor="end">15</text>
<text x="22" y="448.43" font-family="Liberation Sans, sans-serif" font-size="7.1" fill="#4D4D4D" stroke="#4D4D4D" stroke-width="0.0" text-anchor="end">20</text>
<text x="22" y="424.25" font-family="Liberation Sans, sans-serif" font-size="7.1" fill="#4D4D4D" stroke="#4D4D4D" stroke-width="0.0" text-anchor="end">25</text>
<text x="30.50" y="554.8" font-family="Liberation Sans, sans-serif" font-size="7.1" fill="#4D4D4D" stroke="#4D4D4D" stroke-width="0.0" text-anchor="middle">-5</text>
<text x="70.10" y="554.8" font-family="Liberation Sans, sans-serif" font-size="7.1" fill="#4D4D4D" stroke="#4D4D4D" stroke-width="0.0" text-anchor="middle">-1</text>
<text x="102.40" y="554.8" font-family="Liberation Sans, sans-serif" font-size="7.1" fill="#4D4D4D" stroke="#4D4D4D" stroke-width="0.0" text-anchor="middle">1</text>
<text x="141.30" y="554.8" font-family="Liberation Sans, sans-serif" font-size="7.1" fill="#4D4D4D" stroke="#4D4D4D" stroke-width="0.0" text-anchor="middle">5</text>
<text x="163.40" y="554.8" font-family="Liberation Sans, sans-serif" font-size="7.1" fill="#4D4D4D" stroke="#4D4D4D" stroke-width="0.0" text-anchor="middle">10</text>
<text x="183.87" y="554.8" font-family="Liberation Sans, sans-serif" font-size="7.1" fill="#4D4D4D" stroke="#4D4D4D" stroke-width="0.0" text-anchor="middle">-5</text>
<text x="223.47" y="554.8" font-family="Liberation Sans, sans-serif" font-size="7.1" fill="#4D4D4D" stroke="#4D4D4D" stroke-width="0.0" text-anchor="middle">-1</text>
<text x="255.77" y="554.8" font-family="Liberation Sans, sans-serif" font-size="7.1" fill="#4D4D4D" stroke="#4D4D4D" stroke-width="0.0" text-anchor="middle">1</text>
<text x="294.67" y="554.8" font-family="Liberation Sans, sans-serif" font-size="7.1" fill="#4D4D4D" stroke="#4D4D4D" stroke-width="0.0" text-anchor="middle">5</text>
<text x="316.77" y="554.8" font-family="Liberation Sans, sans-serif" font-size="7.1" fill="#4D4D4D" stroke="#4D4D4D" stroke-width="0.0" text-anchor="middle">10</text>
<text x="337.68" y="554.8" font-family="Liberation Sans, sans-serif" font-size="7.1" fill="#4D4D4D" stroke="#4D4D4D" stroke-width="0.0" text-anchor="middle">-5</text>
<text x="377.28" y="554.8" font-family="Liberation Sans, sans-serif" font-size="7.1" fill="#4D4D4D" stroke="#4D4D4D" stroke-width="0.0" text-anchor="middle">-1</text>
<text x="409.58" y="554.8" font-family="Liberation Sans, sans-serif" font-size="7.1" fill="#4D4D4D" stroke="#4D4D4D" stroke-width="0.0" text-anchor="middle">1</text>
<text x="448.48" y="554.8" font-family="Liberation Sans, sans-serif" font-size="7.1" fill="#4D4D4D" stroke="#4D4D4D" stroke-width="0.0" text-anchor="middle">5</text>
<text x="470.58" y="554.8" font-family="Liberation Sans, sans-serif" font-size="7.1" fill="#4D4D4D" stroke="#4D4D4D" stroke-width="0.0" text-anchor="middle">10</text>
<text x="253.4" y="563.6" font-family="Liberation Sans, sans-serif" font-size="8.15" fill="#000" stroke="#000" stroke-width="0.0" text-anchor="middle">Difference in Snowmelt to RainFall Ratio Relative to BL Period</text>
<text x="0" y="0" transform="translate(10.9,282.5) rotate(-90)" font-family="Liberation Sans, sans-serif" font-size="8.3" fill="#000" stroke="#000" stroke-width="0.0" text-anchor="middle">Total ROS Frequency per Warming Level</text>
<text x="216.2" y="583.3" font-family="Liberation Sans, sans-serif" font-size="8" fill="#000" stroke="#000" stroke-width="0.0">WL15</text>
<text x="254.4" y="583.3" font-family="Liberation Sans, sans-serif" font-size="8" fill="#000" stroke="#000" stroke-width="0.0">WL2</text>
<text x="287.6" y="583.3" font-family="Liberation Sans, sans-serif" font-size="8" fill="#000" stroke="#000" stroke-width="0.0">WL4</text></svg>
</div></body></html>
